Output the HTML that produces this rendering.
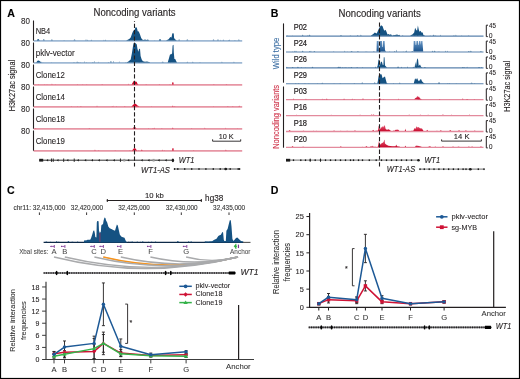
<!DOCTYPE html>
<html><head><meta charset="utf-8"><style>html,body{margin:0;padding:0;background:#fff;}body{width:520px;height:379px;overflow:hidden;position:relative;font-family:"Liberation Sans", sans-serif;}</style></head><body>
<svg width="520" height="379" viewBox="0 0 520 379" style="position:absolute;left:0;top:0;will-change:transform;font-family:'Liberation Sans', sans-serif">
<defs><linearGradient id="gb" x1="0" y1="0" x2="0" y2="1"><stop offset="0" stop-color="#6a97c4"/><stop offset="0.55" stop-color="#3d72a8"/><stop offset="1" stop-color="#1a5189"/></linearGradient><linearGradient id="gr" x1="0" y1="0" x2="0" y2="1"><stop offset="0" stop-color="#e2607a"/><stop offset="0.6" stop-color="#d42a4a"/><stop offset="1" stop-color="#c80a2c"/></linearGradient></defs>
<rect x="0" y="0" width="520" height="379" fill="#fff"/>
<text x="7.2" y="17.1" font-size="10.6" fill="#000" stroke="#000" stroke-width="0.12" font-weight="bold" >A</text>
<text x="93.5" y="15.5" font-size="10.0" fill="#231f20" stroke="#231f20" stroke-width="0.12" textLength="82.1" lengthAdjust="spacingAndGlyphs" >Noncoding variants</text>
<text transform="translate(14.9,85.6) rotate(-90)" x="0" y="0" font-size="8.3" fill="#231f20" stroke="#231f20" stroke-width="0.12" text-anchor="middle" textLength="51.4" lengthAdjust="spacingAndGlyphs" >H3K27ac signal</text>
<line x1="33.6" y1="40.9" x2="242.2" y2="40.9" stroke="#9fb9d4" stroke-width="1.7" />
<path d="M42.92,40.30 L42.92,40.01 L43.82,39.35 L44.72,40.01 L44.72,40.30 Z" fill="#155282"/>
<path d="M50.99,40.30 L50.99,40.07 L51.88,39.53 L52.77,40.07 L52.77,40.30 Z" fill="#155282"/>
<path d="M54.52,40.30 L54.52,40.26 L55.38,40.17 L56.24,40.26 L56.24,40.30 Z" fill="#155282"/>
<path d="M63.50,40.30 L63.50,40.23 L64.05,40.08 L64.60,40.23 L64.60,40.30 Z" fill="#155282"/>
<path d="M73.69,40.30 L73.69,40.06 L74.56,39.49 L75.42,40.06 L75.42,40.30 Z" fill="#155282"/>
<path d="M78.63,40.30 L78.63,40.26 L79.20,40.18 L79.78,40.26 L79.78,40.30 Z" fill="#155282"/>
<path d="M85.48,40.30 L85.48,40.09 L85.98,39.59 L86.48,40.09 L86.48,40.30 Z" fill="#155282"/>
<path d="M86.96,40.30 L86.96,40.17 L87.61,39.85 L88.26,40.17 L88.26,40.30 Z" fill="#155282"/>
<path d="M90.56,40.30 L90.56,40.14 L91.40,39.77 L92.25,40.14 L92.25,40.30 Z" fill="#155282"/>
<path d="M103.32,40.30 L103.32,40.14 L103.65,39.76 L103.98,40.14 L103.98,40.30 Z" fill="#155282"/>
<path d="M104.46,40.30 L104.46,40.16 L105.35,39.85 L106.25,40.16 L106.25,40.30 Z" fill="#155282"/>
<path d="M115.86,40.30 L115.86,40.23 L116.53,40.06 L117.20,40.23 L117.20,40.30 Z" fill="#155282"/>
<path d="M128.55,40.30 L128.55,40.03 L129.31,39.39 L130.07,40.03 L130.07,40.30 Z" fill="#155282"/>
<path d="M136.01,40.30 L136.01,40.20 L136.36,39.95 L136.71,40.20 L136.71,40.30 Z" fill="#155282"/>
<path d="M137.31,40.30 L137.31,40.27 L138.21,40.20 L139.11,40.27 L139.11,40.30 Z" fill="#155282"/>
<path d="M154.48,40.30 L154.48,40.17 L154.83,39.88 L155.19,40.17 L155.19,40.30 Z" fill="#155282"/>
<path d="M178.35,40.30 L178.35,40.05 L179.15,39.45 L179.96,40.05 L179.96,40.30 Z" fill="#155282"/>
<path d="M184.05,40.30 L184.05,40.27 L184.83,40.20 L185.60,40.27 L185.60,40.30 Z" fill="#155282"/>
<path d="M186.46,40.30 L186.46,40.08 L187.33,39.56 L188.20,40.08 L188.20,40.30 Z" fill="#155282"/>
<path d="M191.71,40.30 L191.71,40.24 L192.52,40.10 L193.33,40.24 L193.33,40.30 Z" fill="#155282"/>
<path d="M204.56,40.30 L204.56,40.25 L205.22,40.14 L205.88,40.25 L205.88,40.30 Z" fill="#155282"/>
<path d="M212.78,40.30 L212.78,40.04 L213.51,39.43 L214.23,40.04 L214.23,40.30 Z" fill="#155282"/>
<path d="M217.18,40.30 L217.18,40.05 L217.97,39.48 L218.76,40.05 L218.76,40.30 Z" fill="#155282"/>
<path d="M220.38,40.30 L220.38,40.17 L220.77,39.87 L221.16,40.17 L221.16,40.30 Z" fill="#155282"/>
<path d="M222.78,40.30 L222.78,40.11 L223.42,39.67 L224.06,40.11 L224.06,40.30 Z" fill="#155282"/>
<path d="M227.85,40.30 L227.85,40.21 L228.72,39.99 L229.59,40.21 L229.59,40.30 Z" fill="#155282"/>
<path d="M228.93,40.30 L228.93,40.11 L229.45,39.66 L229.96,40.11 L229.96,40.30 Z" fill="#155282"/>
<path d="M234.21,40.30 L234.21,40.18 L234.96,39.89 L235.71,40.18 L235.71,40.30 Z" fill="#155282"/>
<path d="M238.23,40.30 L238.23,40.04 L238.88,39.42 L239.53,40.04 L239.53,40.30 Z" fill="#155282"/>
<line x1="33.5" y1="20.5" x2="33.5" y2="40.699999999999996" stroke="#231f20" stroke-width="1.1" />
<text x="30.0" y="24.2" font-size="8.4" fill="#231f20" stroke="#231f20" stroke-width="0.08" text-anchor="end" textLength="8.9" lengthAdjust="spacingAndGlyphs" >80</text>
<text x="35.7" y="33.8" font-size="8.5" fill="#231f20" stroke="#231f20" stroke-width="0.1" textLength="14.6" lengthAdjust="spacingAndGlyphs" >NB4</text>
<line x1="33.6" y1="62.9" x2="242.2" y2="62.9" stroke="#9fb9d4" stroke-width="1.7" />
<path d="M40.42,62.30 L40.42,62.15 L41.10,61.79 L41.78,62.15 L41.78,62.30 Z" fill="#155282"/>
<path d="M42.61,62.30 L42.61,62.21 L42.96,62.00 L43.32,62.21 L43.32,62.30 Z" fill="#155282"/>
<path d="M50.26,62.30 L50.26,62.30 L50.87,62.28 L51.49,62.30 L51.49,62.30 Z" fill="#155282"/>
<path d="M51.35,62.30 L51.35,62.23 L51.66,62.06 L51.98,62.23 L51.98,62.30 Z" fill="#155282"/>
<path d="M73.13,62.30 L73.13,62.24 L73.98,62.09 L74.83,62.24 L74.83,62.30 Z" fill="#155282"/>
<path d="M76.43,62.30 L76.43,62.11 L77.20,61.67 L77.97,62.11 L77.97,62.30 Z" fill="#155282"/>
<path d="M77.84,62.30 L77.84,62.20 L78.72,61.97 L79.60,62.20 L79.60,62.30 Z" fill="#155282"/>
<path d="M79.98,62.30 L79.98,62.23 L80.34,62.05 L80.70,62.23 L80.70,62.30 Z" fill="#155282"/>
<path d="M84.00,62.30 L84.00,62.08 L84.38,61.57 L84.76,62.08 L84.76,62.30 Z" fill="#155282"/>
<path d="M85.97,62.30 L85.97,62.17 L86.40,61.88 L86.82,62.17 L86.82,62.30 Z" fill="#155282"/>
<path d="M91.91,62.30 L91.91,62.18 L92.72,61.91 L93.53,62.18 L93.53,62.30 Z" fill="#155282"/>
<path d="M93.87,62.30 L93.87,62.00 L94.30,61.31 L94.72,62.00 L94.72,62.30 Z" fill="#155282"/>
<path d="M97.86,62.30 L97.86,62.13 L98.31,61.72 L98.75,62.13 L98.75,62.30 Z" fill="#155282"/>
<path d="M105.47,62.30 L105.47,62.25 L106.31,62.15 L107.16,62.25 L107.16,62.30 Z" fill="#155282"/>
<path d="M107.69,62.30 L107.69,62.24 L108.44,62.11 L109.18,62.24 L109.18,62.30 Z" fill="#155282"/>
<path d="M110.10,62.30 L110.10,62.01 L110.93,61.35 L111.76,62.01 L111.76,62.30 Z" fill="#155282"/>
<path d="M113.17,62.30 L113.17,62.01 L113.61,61.34 L114.05,62.01 L114.05,62.30 Z" fill="#155282"/>
<path d="M118.90,62.30 L118.90,62.08 L119.24,61.58 L119.58,62.08 L119.58,62.30 Z" fill="#155282"/>
<path d="M125.25,62.30 L125.25,62.22 L125.81,62.03 L126.38,62.22 L126.38,62.30 Z" fill="#155282"/>
<path d="M126.34,62.30 L126.34,62.19 L126.98,61.93 L127.62,62.19 L127.62,62.30 Z" fill="#155282"/>
<path d="M133.73,62.30 L133.73,62.29 L134.04,62.26 L134.35,62.29 L134.35,62.30 Z" fill="#155282"/>
<path d="M138.54,62.30 L138.54,62.11 L139.13,61.66 L139.72,62.11 L139.72,62.30 Z" fill="#155282"/>
<path d="M143.14,62.30 L143.14,62.14 L143.88,61.75 L144.62,62.14 L144.62,62.30 Z" fill="#155282"/>
<path d="M161.78,62.30 L161.78,62.11 L162.68,61.66 L163.57,62.11 L163.57,62.30 Z" fill="#155282"/>
<path d="M169.81,62.30 L169.81,62.07 L170.13,61.55 L170.45,62.07 L170.45,62.30 Z" fill="#155282"/>
<path d="M180.22,62.30 L180.22,62.25 L181.06,62.13 L181.91,62.25 L181.91,62.30 Z" fill="#155282"/>
<path d="M186.55,62.30 L186.55,62.17 L187.33,61.87 L188.11,62.17 L188.11,62.30 Z" fill="#155282"/>
<path d="M191.97,62.30 L191.97,62.15 L192.77,61.80 L193.57,62.15 L193.57,62.30 Z" fill="#155282"/>
<path d="M199.33,62.30 L199.33,62.18 L200.01,61.89 L200.68,62.18 L200.68,62.30 Z" fill="#155282"/>
<path d="M205.01,62.30 L205.01,62.29 L205.84,62.27 L206.66,62.29 L206.66,62.30 Z" fill="#155282"/>
<path d="M210.12,62.30 L210.12,62.26 L210.69,62.16 L211.26,62.26 L211.26,62.30 Z" fill="#155282"/>
<path d="M212.51,62.30 L212.51,62.29 L213.19,62.25 L213.87,62.29 L213.87,62.30 Z" fill="#155282"/>
<path d="M221.17,62.30 L221.17,62.16 L221.90,61.83 L222.62,62.16 L222.62,62.30 Z" fill="#155282"/>
<path d="M233.27,62.30 L233.27,62.16 L233.95,61.85 L234.62,62.16 L234.62,62.30 Z" fill="#155282"/>
<line x1="33.5" y1="42.5" x2="33.5" y2="62.699999999999996" stroke="#231f20" stroke-width="1.1" />
<text x="30.0" y="46.2" font-size="8.4" fill="#231f20" stroke="#231f20" stroke-width="0.08" text-anchor="end" textLength="8.9" lengthAdjust="spacingAndGlyphs" >80</text>
<text x="35.7" y="55.8" font-size="8.5" fill="#231f20" stroke="#231f20" stroke-width="0.1" textLength="39.0" lengthAdjust="spacingAndGlyphs" >pklv-vector</text>
<line x1="33.6" y1="84.9" x2="242.2" y2="84.9" stroke="#e796a5" stroke-width="1.7" />
<path d="M38.20,84.30 L38.20,84.24 L38.66,84.11 L39.13,84.24 L39.13,84.30 Z" fill="#cf0a2c"/>
<path d="M44.31,84.30 L44.31,84.23 L44.71,84.08 L45.10,84.23 L45.10,84.30 Z" fill="#cf0a2c"/>
<path d="M46.67,84.30 L46.67,84.18 L47.01,83.89 L47.36,84.18 L47.36,84.30 Z" fill="#cf0a2c"/>
<path d="M51.33,84.30 L51.33,84.16 L51.94,83.84 L52.54,84.16 L52.54,84.30 Z" fill="#cf0a2c"/>
<path d="M54.89,84.30 L54.89,84.24 L55.27,84.09 L55.65,84.24 L55.65,84.30 Z" fill="#cf0a2c"/>
<path d="M73.30,84.30 L73.30,84.26 L73.81,84.18 L74.33,84.26 L74.33,84.30 Z" fill="#cf0a2c"/>
<path d="M76.81,84.30 L76.81,84.18 L77.37,83.89 L77.93,84.18 L77.93,84.30 Z" fill="#cf0a2c"/>
<path d="M82.39,84.30 L82.39,84.22 L82.80,84.03 L83.20,84.22 L83.20,84.30 Z" fill="#cf0a2c"/>
<path d="M84.43,84.30 L84.43,84.26 L84.94,84.16 L85.45,84.26 L85.45,84.30 Z" fill="#cf0a2c"/>
<path d="M86.39,84.30 L86.39,84.23 L86.82,84.07 L87.24,84.23 L87.24,84.30 Z" fill="#cf0a2c"/>
<path d="M98.72,84.30 L98.72,84.26 L99.49,84.17 L100.25,84.26 L100.25,84.30 Z" fill="#cf0a2c"/>
<path d="M101.25,84.30 L101.25,84.21 L102.14,83.99 L103.03,84.21 L103.03,84.30 Z" fill="#cf0a2c"/>
<path d="M127.83,84.30 L127.83,84.17 L128.38,83.86 L128.94,84.17 L128.94,84.30 Z" fill="#cf0a2c"/>
<path d="M145.29,84.30 L145.29,84.19 L146.13,83.94 L146.97,84.19 L146.97,84.30 Z" fill="#cf0a2c"/>
<path d="M158.62,84.30 L158.62,84.22 L159.34,84.03 L160.06,84.22 L160.06,84.30 Z" fill="#cf0a2c"/>
<path d="M163.85,84.30 L163.85,84.29 L164.33,84.25 L164.82,84.29 L164.82,84.30 Z" fill="#cf0a2c"/>
<path d="M169.43,84.30 L169.43,84.23 L169.99,84.06 L170.56,84.23 L170.56,84.30 Z" fill="#cf0a2c"/>
<path d="M213.09,84.30 L213.09,84.20 L213.89,83.98 L214.70,84.20 L214.70,84.30 Z" fill="#cf0a2c"/>
<path d="M225.60,84.30 L225.60,84.17 L226.43,83.88 L227.25,84.17 L227.25,84.30 Z" fill="#cf0a2c"/>
<path d="M235.71,84.30 L235.71,84.25 L236.02,84.15 L236.33,84.25 L236.33,84.30 Z" fill="#cf0a2c"/>
<line x1="33.5" y1="64.5" x2="33.5" y2="84.7" stroke="#231f20" stroke-width="1.1" />
<text x="30.0" y="68.2" font-size="8.4" fill="#231f20" stroke="#231f20" stroke-width="0.08" text-anchor="end" textLength="8.9" lengthAdjust="spacingAndGlyphs" >80</text>
<text x="35.7" y="77.80000000000001" font-size="8.5" fill="#231f20" stroke="#231f20" stroke-width="0.1" textLength="29.2" lengthAdjust="spacingAndGlyphs" >Clone12</text>
<line x1="33.6" y1="106.9" x2="242.2" y2="106.9" stroke="#e796a5" stroke-width="1.7" />
<path d="M40.65,106.30 L40.65,106.27 L41.39,106.19 L42.13,106.27 L42.13,106.30 Z" fill="#cf0a2c"/>
<path d="M46.72,106.30 L46.72,106.26 L47.11,106.16 L47.50,106.26 L47.50,106.30 Z" fill="#cf0a2c"/>
<path d="M70.78,106.30 L70.78,106.20 L71.34,105.96 L71.91,106.20 L71.91,106.30 Z" fill="#cf0a2c"/>
<path d="M77.11,106.30 L77.11,106.23 L77.55,106.05 L77.99,106.23 L77.99,106.30 Z" fill="#cf0a2c"/>
<path d="M80.01,106.30 L80.01,106.20 L80.88,105.97 L81.76,106.20 L81.76,106.30 Z" fill="#cf0a2c"/>
<path d="M84.00,106.30 L84.00,106.28 L84.78,106.23 L85.56,106.28 L85.56,106.30 Z" fill="#cf0a2c"/>
<path d="M96.35,106.30 L96.35,106.15 L97.02,105.81 L97.68,106.15 L97.68,106.30 Z" fill="#cf0a2c"/>
<path d="M107.81,106.30 L107.81,106.27 L108.15,106.19 L108.50,106.27 L108.50,106.30 Z" fill="#cf0a2c"/>
<path d="M111.59,106.30 L111.59,106.23 L112.10,106.08 L112.60,106.23 L112.60,106.30 Z" fill="#cf0a2c"/>
<path d="M112.73,106.30 L112.73,106.15 L113.10,105.80 L113.48,106.15 L113.48,106.30 Z" fill="#cf0a2c"/>
<path d="M116.08,106.30 L116.08,106.23 L116.60,106.07 L117.12,106.23 L117.12,106.30 Z" fill="#cf0a2c"/>
<path d="M118.33,106.30 L118.33,106.25 L118.93,106.13 L119.53,106.25 L119.53,106.30 Z" fill="#cf0a2c"/>
<path d="M123.94,106.30 L123.94,106.22 L124.79,106.05 L125.63,106.22 L125.63,106.30 Z" fill="#cf0a2c"/>
<path d="M133.95,106.30 L133.95,106.24 L134.31,106.10 L134.66,106.24 L134.66,106.30 Z" fill="#cf0a2c"/>
<path d="M146.93,106.30 L146.93,106.28 L147.45,106.24 L147.97,106.28 L147.97,106.30 Z" fill="#cf0a2c"/>
<path d="M151.08,106.30 L151.08,106.22 L151.46,106.03 L151.84,106.22 L151.84,106.30 Z" fill="#cf0a2c"/>
<path d="M156.81,106.30 L156.81,106.26 L157.63,106.18 L158.46,106.26 L158.46,106.30 Z" fill="#cf0a2c"/>
<path d="M173.95,106.30 L173.95,106.22 L174.74,106.03 L175.53,106.22 L175.53,106.30 Z" fill="#cf0a2c"/>
<path d="M179.33,106.30 L179.33,106.30 L180.06,106.28 L180.80,106.30 L180.80,106.30 Z" fill="#cf0a2c"/>
<path d="M191.15,106.30 L191.15,106.25 L192.05,106.15 L192.94,106.25 L192.94,106.30 Z" fill="#cf0a2c"/>
<path d="M196.04,106.30 L196.04,106.26 L196.54,106.17 L197.04,106.26 L197.04,106.30 Z" fill="#cf0a2c"/>
<path d="M213.10,106.30 L213.10,106.18 L213.50,105.89 L213.91,106.18 L213.91,106.30 Z" fill="#cf0a2c"/>
<path d="M226.95,106.30 L226.95,106.22 L227.80,106.05 L228.66,106.22 L228.66,106.30 Z" fill="#cf0a2c"/>
<path d="M232.04,106.30 L232.04,106.23 L232.80,106.08 L233.55,106.23 L233.55,106.30 Z" fill="#cf0a2c"/>
<path d="M238.38,106.30 L238.38,106.16 L239.24,105.84 L240.10,106.16 L240.10,106.30 Z" fill="#cf0a2c"/>
<line x1="33.5" y1="86.5" x2="33.5" y2="106.7" stroke="#231f20" stroke-width="1.1" />
<text x="30.0" y="90.2" font-size="8.4" fill="#231f20" stroke="#231f20" stroke-width="0.08" text-anchor="end" textLength="8.9" lengthAdjust="spacingAndGlyphs" >80</text>
<text x="35.7" y="99.80000000000001" font-size="8.5" fill="#231f20" stroke="#231f20" stroke-width="0.1" textLength="29.2" lengthAdjust="spacingAndGlyphs" >Clone14</text>
<line x1="33.6" y1="128.9" x2="242.2" y2="128.9" stroke="#e796a5" stroke-width="1.7" />
<path d="M35.00,128.30 L35.00,128.19 L35.69,127.95 L36.38,128.19 L36.38,128.30 Z" fill="#cf0a2c"/>
<path d="M44.97,128.30 L44.97,128.27 L45.82,128.19 L46.66,128.27 L46.66,128.30 Z" fill="#cf0a2c"/>
<path d="M53.92,128.30 L53.92,128.25 L54.27,128.13 L54.62,128.25 L54.62,128.30 Z" fill="#cf0a2c"/>
<path d="M86.61,128.30 L86.61,128.28 L87.34,128.23 L88.06,128.28 L88.06,128.30 Z" fill="#cf0a2c"/>
<path d="M88.47,128.30 L88.47,128.19 L89.34,127.95 L90.20,128.19 L90.20,128.30 Z" fill="#cf0a2c"/>
<path d="M97.92,128.30 L97.92,128.25 L98.81,128.14 L99.70,128.25 L99.70,128.30 Z" fill="#cf0a2c"/>
<path d="M103.58,128.30 L103.58,128.28 L104.00,128.23 L104.42,128.28 L104.42,128.30 Z" fill="#cf0a2c"/>
<path d="M131.40,128.30 L131.40,128.26 L131.97,128.17 L132.54,128.26 L132.54,128.30 Z" fill="#cf0a2c"/>
<path d="M148.14,128.30 L148.14,128.24 L148.60,128.10 L149.06,128.24 L149.06,128.30 Z" fill="#cf0a2c"/>
<path d="M152.14,128.30 L152.14,128.20 L153.00,127.96 L153.86,128.20 L153.86,128.30 Z" fill="#cf0a2c"/>
<path d="M153.95,128.30 L153.95,128.17 L154.51,127.87 L155.06,128.17 L155.06,128.30 Z" fill="#cf0a2c"/>
<path d="M161.23,128.30 L161.23,128.24 L161.88,128.11 L162.53,128.24 L162.53,128.30 Z" fill="#cf0a2c"/>
<path d="M181.78,128.30 L181.78,128.28 L182.66,128.23 L183.53,128.28 L183.53,128.30 Z" fill="#cf0a2c"/>
<path d="M191.05,128.30 L191.05,128.23 L191.69,128.08 L192.34,128.23 L192.34,128.30 Z" fill="#cf0a2c"/>
<path d="M201.43,128.30 L201.43,128.27 L201.87,128.19 L202.31,128.27 L202.31,128.30 Z" fill="#cf0a2c"/>
<path d="M204.18,128.30 L204.18,128.17 L204.81,127.87 L205.45,128.17 L205.45,128.30 Z" fill="#cf0a2c"/>
<path d="M225.20,128.30 L225.20,128.17 L225.67,127.87 L226.13,128.17 L226.13,128.30 Z" fill="#cf0a2c"/>
<path d="M237.40,128.30 L237.40,128.22 L237.74,128.05 L238.08,128.22 L238.08,128.30 Z" fill="#cf0a2c"/>
<line x1="33.5" y1="108.5" x2="33.5" y2="128.70000000000002" stroke="#231f20" stroke-width="1.1" />
<text x="30.0" y="112.2" font-size="8.4" fill="#231f20" stroke="#231f20" stroke-width="0.08" text-anchor="end" textLength="8.9" lengthAdjust="spacingAndGlyphs" >80</text>
<text x="35.7" y="121.80000000000001" font-size="8.5" fill="#231f20" stroke="#231f20" stroke-width="0.1" textLength="29.2" lengthAdjust="spacingAndGlyphs" >Clone18</text>
<line x1="33.6" y1="150.9" x2="242.2" y2="150.9" stroke="#e796a5" stroke-width="1.7" />
<path d="M65.74,150.30 L65.74,150.28 L66.14,150.23 L66.55,150.28 L66.55,150.30 Z" fill="#cf0a2c"/>
<path d="M73.12,150.30 L73.12,150.29 L73.70,150.28 L74.28,150.29 L74.28,150.30 Z" fill="#cf0a2c"/>
<path d="M94.10,150.30 L94.10,150.17 L94.96,149.85 L95.83,150.17 L95.83,150.30 Z" fill="#cf0a2c"/>
<path d="M98.12,150.30 L98.12,150.17 L98.76,149.88 L99.40,150.17 L99.40,150.30 Z" fill="#cf0a2c"/>
<path d="M103.09,150.30 L103.09,150.30 L103.59,150.30 L104.09,150.30 L104.09,150.30 Z" fill="#cf0a2c"/>
<path d="M114.65,150.30 L114.65,150.20 L115.15,149.97 L115.66,150.20 L115.66,150.30 Z" fill="#cf0a2c"/>
<path d="M127.18,150.30 L127.18,150.27 L128.00,150.21 L128.82,150.27 L128.82,150.30 Z" fill="#cf0a2c"/>
<path d="M129.28,150.30 L129.28,150.17 L129.92,149.88 L130.57,150.17 L130.57,150.30 Z" fill="#cf0a2c"/>
<path d="M131.97,150.30 L131.97,150.25 L132.71,150.13 L133.46,150.25 L133.46,150.30 Z" fill="#cf0a2c"/>
<path d="M138.34,150.30 L138.34,150.18 L138.73,149.91 L139.12,150.18 L139.12,150.30 Z" fill="#cf0a2c"/>
<path d="M161.75,150.30 L161.75,150.16 L162.46,149.84 L163.18,150.16 L163.18,150.30 Z" fill="#cf0a2c"/>
<path d="M163.92,150.30 L163.92,150.20 L164.34,149.98 L164.77,150.20 L164.77,150.30 Z" fill="#cf0a2c"/>
<path d="M187.73,150.30 L187.73,150.25 L188.57,150.13 L189.41,150.25 L189.41,150.30 Z" fill="#cf0a2c"/>
<path d="M193.16,150.30 L193.16,150.23 L193.74,150.07 L194.32,150.23 L194.32,150.30 Z" fill="#cf0a2c"/>
<path d="M224.93,150.30 L224.93,150.16 L225.83,149.82 L226.72,150.16 L226.72,150.30 Z" fill="#cf0a2c"/>
<line x1="33.5" y1="130.5" x2="33.5" y2="150.70000000000002" stroke="#231f20" stroke-width="1.1" />
<text x="30.0" y="134.2" font-size="8.4" fill="#231f20" stroke="#231f20" stroke-width="0.08" text-anchor="end" textLength="8.9" lengthAdjust="spacingAndGlyphs" >80</text>
<text x="35.7" y="143.8" font-size="8.5" fill="#231f20" stroke="#231f20" stroke-width="0.1" textLength="29.2" lengthAdjust="spacingAndGlyphs" >Clone19</text>
<path d="M36.80,40.40 L36.80,40.40 L37.80,38.90 L38.80,39.20 L39.60,40.40 L39.60,40.40 Z" fill="#155282"/>
<path d="M126.50,40.40 L126.50,40.30 L127.80,39.80 L129.20,38.90 L130.70,37.40 L132.20,33.30 L133.30,30.70 L134.50,29.90 L135.60,27.30 L136.80,27.50 L137.70,31.30 L138.80,31.60 L140.00,34.50 L141.20,38.00 L142.30,39.40 L143.50,40.00 L145.00,39.40 L146.50,40.00 L148.00,39.50 L149.00,40.40 L149.00,40.40 Z" fill="#155282"/>
<path d="M158.80,40.40 L158.80,40.40 L159.50,39.20 L160.60,39.20 L161.20,40.40 L161.20,40.40 Z" fill="#155282"/>
<path d="M166.00,40.40 L166.00,40.40 L168.60,39.20 L170.30,37.10 L171.50,37.40 L172.30,33.60 L173.20,32.90 L173.80,33.90 L174.10,38.00 L175.00,39.20 L176.70,40.40 L176.70,40.40 Z" fill="#155282"/>
<path d="M36.20,62.40 L36.20,62.40 L37.50,60.80 L38.80,60.50 L40.20,61.60 L41.50,62.40 L41.50,62.40 Z" fill="#155282"/>
<path d="M127.00,62.40 L127.00,62.30 L128.40,61.60 L130.70,59.60 L131.90,53.20 L133.00,46.20 L133.60,43.30 L134.80,42.70 L135.90,43.60 L136.80,44.50 L137.40,48.50 L138.30,51.70 L139.10,49.10 L140.00,48.80 L140.60,56.10 L141.70,59.60 L142.90,61.30 L145.00,61.80 L147.00,61.50 L150.00,62.30 L150.00,62.40 Z" fill="#155282"/>
<path d="M167.70,62.40 L167.70,62.40 L168.90,58.40 L170.00,54.60 L171.20,54.30 L172.10,53.50 L172.60,45.40 L173.50,44.80 L173.80,52.60 L174.40,59.00 L175.20,59.00 L176.10,61.00 L177.00,62.40 L177.00,62.40 Z" fill="#155282"/>
<path d="M131.60,84.40 L131.60,84.40 L132.50,83.00 L133.30,81.50 L134.00,80.90 L135.20,81.20 L135.50,81.80 L136.70,81.80 L137.30,83.50 L138.50,84.40 L138.50,84.40 Z" fill="#cf0a2c"/>
<path d="M172.00,84.40 L172.00,84.40 L172.40,82.30 L173.30,82.30 L173.70,84.40 L173.70,84.40 Z" fill="#cf0a2c"/>
<path d="M131.40,106.40 L131.40,106.40 L133.00,105.00 L134.50,103.40 L136.00,104.00 L137.50,105.50 L139.50,106.40 L139.50,106.40 Z" fill="#cf0a2c"/>
<path d="M172.20,106.40 L172.20,106.40 L172.80,105.40 L173.40,106.40 L173.40,106.40 Z" fill="#cf0a2c"/>
<path d="M132.50,128.40 L132.50,128.40 L134.00,127.00 L135.00,127.00 L136.50,128.40 L136.50,128.40 Z" fill="#cf0a2c"/>
<path d="M172.20,128.40 L172.20,128.40 L172.80,127.60 L173.40,128.40 L173.40,128.40 Z" fill="#cf0a2c"/>
<path d="M132.00,150.40 L132.00,150.40 L133.50,148.80 L134.50,148.00 L135.50,148.60 L137.00,150.40 L137.00,150.40 Z" fill="#cf0a2c"/>
<path d="M141.00,150.40 L141.00,150.40 L141.80,149.50 L142.60,150.40 L142.60,150.40 Z" fill="#cf0a2c"/>
<path d="M172.00,150.40 L172.00,150.40 L172.60,148.00 L173.30,148.00 L173.80,150.40 L173.80,150.40 Z" fill="#cf0a2c"/>
<line x1="134.5" y1="20.9" x2="134.5" y2="166.6" stroke="#231f20" stroke-width="1.1" stroke-dasharray="4.2 2.12" stroke-dashoffset="3.42"/>
<text x="218.7" y="138.8" font-size="7.6" fill="#231f20" stroke="#231f20" stroke-width="0.12" textLength="15.0" lengthAdjust="spacingAndGlyphs" >10 K</text>
<path d="M212.6,139.3 V141.2 H240.7 V139.3" fill="none" stroke="#231f20" stroke-width="0.9"/>
<line x1="39.4" y1="160.2" x2="172.5" y2="160.2" stroke="#1a1a1a" stroke-width="0.9" />
<rect x="39.2" y="158.8" width="4.0" height="2.8" fill="#1a1a1a"/>
<path d="M48.10,159.00 L46.30,160.20 L48.10,161.40 Z" fill="#1a1a1a"/>
<path d="M58.50,159.00 L56.70,160.20 L58.50,161.40 Z" fill="#1a1a1a"/>
<path d="M68.40,159.00 L66.60,160.20 L68.40,161.40 Z" fill="#1a1a1a"/>
<path d="M78.80,159.00 L77.00,160.20 L78.80,161.40 Z" fill="#1a1a1a"/>
<path d="M86.20,159.00 L84.40,160.20 L86.20,161.40 Z" fill="#1a1a1a"/>
<path d="M93.00,159.00 L91.20,160.20 L93.00,161.40 Z" fill="#1a1a1a"/>
<path d="M99.80,159.00 L98.00,160.20 L99.80,161.40 Z" fill="#1a1a1a"/>
<path d="M107.50,159.00 L105.70,160.20 L107.50,161.40 Z" fill="#1a1a1a"/>
<path d="M114.80,159.00 L113.00,160.20 L114.80,161.40 Z" fill="#1a1a1a"/>
<path d="M129.20,159.00 L127.40,160.20 L129.20,161.40 Z" fill="#1a1a1a"/>
<path d="M142.70,159.00 L140.90,160.20 L142.70,161.40 Z" fill="#1a1a1a"/>
<path d="M149.50,159.00 L147.70,160.20 L149.50,161.40 Z" fill="#1a1a1a"/>
<path d="M159.60,159.00 L157.80,160.20 L159.60,161.40 Z" fill="#1a1a1a"/>
<path d="M166.70,159.00 L164.90,160.20 L166.70,161.40 Z" fill="#1a1a1a"/>
<rect x="50.95" y="158.5" width="0.9" height="3.4" fill="#1a1a1a"/>
<rect x="52.75" y="158.5" width="0.9" height="3.4" fill="#1a1a1a"/>
<rect x="63.25" y="158.5" width="0.9" height="3.4" fill="#1a1a1a"/>
<rect x="73.75" y="158.5" width="0.9" height="3.4" fill="#1a1a1a"/>
<rect x="119.95" y="158.5" width="0.9" height="3.4" fill="#1a1a1a"/>
<rect x="123.30" y="158.9" width="2.0" height="2.6" fill="#9a9a9a"/>
<rect x="152.60" y="158.9" width="2.0" height="2.6" fill="#9a9a9a"/>
<ellipse cx="172.9" cy="160.3" rx="1.2" ry="1.9" fill="#1a1a1a"/>
<text x="178.8" y="162.9" font-size="8.4" fill="#231f20" stroke="#231f20" stroke-width="0.12" font-style="italic" textLength="15.6" lengthAdjust="spacingAndGlyphs" >WT1</text>
<text x="141.0" y="172.6" font-size="8.2" fill="#231f20" stroke="#231f20" stroke-width="0.12" font-style="italic" textLength="29.0" lengthAdjust="spacingAndGlyphs" >WT1-AS</text>
<line x1="174.1" y1="169.0" x2="239.9" y2="169.0" stroke="#8c8c8c" stroke-width="1.3" />
<rect x="173.85" y="168.15" width="1.3" height="1.7" fill="#1a1a1a"/>
<rect x="177.15" y="168.15" width="1.3" height="1.7" fill="#1a1a1a"/>
<rect x="184.05" y="168.15" width="1.3" height="1.7" fill="#1a1a1a"/>
<rect x="191.05" y="168.15" width="1.3" height="1.7" fill="#1a1a1a"/>
<rect x="198.35" y="168.15" width="1.3" height="1.7" fill="#1a1a1a"/>
<rect x="205.25" y="168.15" width="1.3" height="1.7" fill="#1a1a1a"/>
<rect x="212.65" y="168.15" width="1.3" height="1.7" fill="#1a1a1a"/>
<rect x="219.55" y="168.15" width="1.3" height="1.7" fill="#1a1a1a"/>
<rect x="229.55" y="168.15" width="1.3" height="1.7" fill="#1a1a1a"/>
<rect x="237.55" y="168.15" width="1.3" height="1.7" fill="#1a1a1a"/>
<rect x="238.95" y="168.15" width="1.3" height="1.7" fill="#1a1a1a"/>
<ellipse cx="225.7" cy="169.0" rx="1.4" ry="1.3" fill="#1a1a1a"/>
<text x="270.8" y="17.1" font-size="10.6" fill="#000" stroke="#000" stroke-width="0.12" font-weight="bold" >B</text>
<text x="338.6" y="16.6" font-size="10.0" fill="#231f20" stroke="#231f20" stroke-width="0.12" textLength="82.1" lengthAdjust="spacingAndGlyphs" >Noncoding variants</text>
<text transform="translate(278.6,53.45) rotate(-90)" x="0" y="0" font-size="9.8" fill="#3d6fa4" stroke="#3d6fa4" stroke-width="0.12" text-anchor="middle" textLength="31.7" lengthAdjust="spacingAndGlyphs" >Wild type</text>
<text transform="translate(278.6,116.85) rotate(-90)" x="0" y="0" font-size="9.8" fill="#d0394f" stroke="#d0394f" stroke-width="0.12" text-anchor="middle" textLength="63.9" lengthAdjust="spacingAndGlyphs" >Noncoding variants</text>
<line x1="283.5" y1="23.4" x2="283.5" y2="82.7" stroke="#231f20" stroke-width="1.1" />
<line x1="283.5" y1="86.5" x2="283.5" y2="147.7" stroke="#231f20" stroke-width="1.1" />
<text transform="translate(509.6,86.3) rotate(-90)" x="0" y="0" font-size="8.3" fill="#231f20" stroke="#231f20" stroke-width="0.12" text-anchor="middle" textLength="51.0" lengthAdjust="spacingAndGlyphs" >H3K27ac signal</text>
<line x1="286" y1="36.1" x2="483.5" y2="36.1" stroke="#5a82ad" stroke-width="1.1" />
<path d="M286.50,35.60 L286.50,35.48 L287.26,35.19 L288.02,35.48 L288.02,35.60 Z" fill="#155282"/>
<path d="M292.01,35.60 L292.01,35.48 L292.34,35.19 L292.67,35.48 L292.67,35.60 Z" fill="#155282"/>
<path d="M298.06,35.60 L298.06,35.55 L298.48,35.44 L298.89,35.55 L298.89,35.60 Z" fill="#155282"/>
<path d="M302.03,35.60 L302.03,35.34 L302.66,34.74 L303.29,35.34 L303.29,35.60 Z" fill="#155282"/>
<path d="M306.81,35.60 L306.81,35.49 L307.57,35.24 L308.33,35.49 L308.33,35.60 Z" fill="#155282"/>
<path d="M308.66,35.60 L308.66,35.37 L309.50,34.84 L310.35,35.37 L310.35,35.60 Z" fill="#155282"/>
<path d="M340.02,35.60 L340.02,35.40 L340.74,34.92 L341.46,35.40 L341.46,35.60 Z" fill="#155282"/>
<path d="M341.20,35.60 L341.20,35.44 L341.63,35.06 L342.06,35.44 L342.06,35.60 Z" fill="#155282"/>
<path d="M347.51,35.60 L347.51,35.55 L348.13,35.43 L348.74,35.55 L348.74,35.60 Z" fill="#155282"/>
<path d="M349.59,35.60 L349.59,35.49 L350.45,35.25 L351.31,35.49 L351.31,35.60 Z" fill="#155282"/>
<path d="M356.89,35.60 L356.89,35.38 L357.71,34.88 L358.53,35.38 L358.53,35.60 Z" fill="#155282"/>
<path d="M357.96,35.60 L357.96,35.53 L358.31,35.38 L358.67,35.53 L358.67,35.60 Z" fill="#155282"/>
<path d="M360.35,35.60 L360.35,35.34 L360.89,34.75 L361.43,35.34 L361.43,35.60 Z" fill="#155282"/>
<path d="M366.34,35.60 L366.34,35.54 L366.89,35.41 L367.44,35.54 L367.44,35.60 Z" fill="#155282"/>
<path d="M375.47,35.60 L375.47,35.53 L375.96,35.36 L376.44,35.53 L376.44,35.60 Z" fill="#155282"/>
<path d="M379.72,35.60 L379.72,35.60 L380.06,35.59 L380.41,35.60 L380.41,35.60 Z" fill="#155282"/>
<path d="M389.44,35.60 L389.44,35.34 L389.75,34.72 L390.07,35.34 L390.07,35.60 Z" fill="#155282"/>
<path d="M393.57,35.60 L393.57,35.36 L393.87,34.80 L394.17,35.36 L394.17,35.60 Z" fill="#155282"/>
<path d="M397.43,35.60 L397.43,35.50 L398.00,35.26 L398.57,35.50 L398.57,35.60 Z" fill="#155282"/>
<path d="M398.75,35.60 L398.75,35.37 L399.38,34.84 L400.01,35.37 L400.01,35.60 Z" fill="#155282"/>
<path d="M402.10,35.60 L402.10,35.44 L402.75,35.07 L403.40,35.44 L403.40,35.60 Z" fill="#155282"/>
<path d="M410.88,35.60 L410.88,35.59 L411.44,35.56 L412.01,35.59 L412.01,35.60 Z" fill="#155282"/>
<path d="M411.91,35.60 L411.91,35.57 L412.26,35.50 L412.61,35.57 L412.61,35.60 Z" fill="#155282"/>
<path d="M413.85,35.60 L413.85,35.45 L414.73,35.09 L415.61,35.45 L415.61,35.60 Z" fill="#155282"/>
<path d="M416.93,35.60 L416.93,35.34 L417.68,34.75 L418.42,35.34 L418.42,35.60 Z" fill="#155282"/>
<path d="M421.92,35.60 L421.92,35.35 L422.69,34.78 L423.46,35.35 L423.46,35.60 Z" fill="#155282"/>
<path d="M427.92,35.60 L427.92,35.60 L428.53,35.59 L429.13,35.60 L429.13,35.60 Z" fill="#155282"/>
<path d="M429.75,35.60 L429.75,35.43 L430.08,35.03 L430.41,35.43 L430.41,35.60 Z" fill="#155282"/>
<path d="M432.77,35.60 L432.77,35.36 L433.58,34.79 L434.39,35.36 L434.39,35.60 Z" fill="#155282"/>
<path d="M434.65,35.60 L434.65,35.46 L435.53,35.13 L436.41,35.46 L436.41,35.60 Z" fill="#155282"/>
<path d="M440.23,35.60 L440.23,35.36 L440.60,34.81 L440.97,35.36 L440.97,35.60 Z" fill="#155282"/>
<path d="M446.40,35.60 L446.40,35.58 L446.91,35.52 L447.41,35.58 L447.41,35.60 Z" fill="#155282"/>
<path d="M453.38,35.60 L453.38,35.42 L453.95,35.00 L454.51,35.42 L454.51,35.60 Z" fill="#155282"/>
<path d="M455.51,35.60 L455.51,35.35 L455.91,34.78 L456.31,35.35 L456.31,35.60 Z" fill="#155282"/>
<path d="M461.15,35.60 L461.15,35.47 L461.71,35.15 L462.26,35.47 L462.26,35.60 Z" fill="#155282"/>
<path d="M462.73,35.60 L462.73,35.55 L463.19,35.44 L463.65,35.55 L463.65,35.60 Z" fill="#155282"/>
<path d="M467.80,35.60 L467.80,35.53 L468.61,35.36 L469.42,35.53 L469.42,35.60 Z" fill="#155282"/>
<text x="293.7" y="30.200000000000003" font-size="8.4" fill="#231f20" stroke="#231f20" stroke-width="0.22" textLength="13.3" lengthAdjust="spacingAndGlyphs" >P02</text>
<path d="M488.0,25.20 H486.3 V36.60 H487.8" fill="none" stroke="#231f20" stroke-width="1.0"/>
<text x="489.0" y="27.700000000000003" font-size="6.9" fill="#231f20" stroke="#231f20" stroke-width="0.1" textLength="6.9" lengthAdjust="spacingAndGlyphs" >45</text>
<text x="489.0" y="37.6" font-size="6.9" fill="#231f20" stroke="#231f20" stroke-width="0.1" textLength="3.5" lengthAdjust="spacingAndGlyphs" >0</text>
<line x1="286" y1="52.0" x2="483.5" y2="52.0" stroke="#5a82ad" stroke-width="1.1" />
<path d="M292.17,51.50 L292.17,51.44 L292.65,51.30 L293.12,51.44 L293.12,51.50 Z" fill="#155282"/>
<path d="M294.21,51.50 L294.21,51.24 L294.55,50.63 L294.90,51.24 L294.90,51.50 Z" fill="#155282"/>
<path d="M295.50,51.50 L295.50,51.29 L296.02,50.81 L296.54,51.29 L296.54,51.50 Z" fill="#155282"/>
<path d="M301.93,51.50 L301.93,51.28 L302.64,50.76 L303.35,51.28 L303.35,51.50 Z" fill="#155282"/>
<path d="M309.16,51.50 L309.16,51.37 L309.78,51.08 L310.40,51.37 L310.40,51.50 Z" fill="#155282"/>
<path d="M310.68,51.50 L310.68,51.31 L310.99,50.87 L311.29,51.31 L311.29,51.50 Z" fill="#155282"/>
<path d="M312.53,51.50 L312.53,51.49 L312.93,51.47 L313.34,51.49 L313.34,51.50 Z" fill="#155282"/>
<path d="M313.62,51.50 L313.62,51.32 L314.36,50.88 L315.10,51.32 L315.10,51.50 Z" fill="#155282"/>
<path d="M323.53,51.50 L323.53,51.48 L323.84,51.42 L324.16,51.48 L324.16,51.50 Z" fill="#155282"/>
<path d="M332.89,51.50 L332.89,51.45 L333.66,51.34 L334.44,51.45 L334.44,51.50 Z" fill="#155282"/>
<path d="M344.42,51.50 L344.42,51.28 L344.77,50.76 L345.13,51.28 L345.13,51.50 Z" fill="#155282"/>
<path d="M346.83,51.50 L346.83,51.44 L347.19,51.32 L347.56,51.44 L347.56,51.50 Z" fill="#155282"/>
<path d="M350.78,51.50 L350.78,51.32 L351.61,50.91 L352.44,51.32 L352.44,51.50 Z" fill="#155282"/>
<path d="M357.29,51.50 L357.29,51.32 L357.92,50.91 L358.55,51.32 L358.55,51.50 Z" fill="#155282"/>
<path d="M365.12,51.50 L365.12,51.44 L365.46,51.30 L365.80,51.44 L365.80,51.50 Z" fill="#155282"/>
<path d="M366.34,51.50 L366.34,51.41 L366.86,51.19 L367.39,51.41 L367.39,51.50 Z" fill="#155282"/>
<path d="M373.40,51.50 L373.40,51.35 L373.89,51.01 L374.38,51.35 L374.38,51.50 Z" fill="#155282"/>
<path d="M379.52,51.50 L379.52,51.23 L380.26,50.61 L381.01,51.23 L381.01,51.50 Z" fill="#155282"/>
<path d="M389.09,51.50 L389.09,51.39 L389.66,51.13 L390.23,51.39 L390.23,51.50 Z" fill="#155282"/>
<path d="M394.00,51.50 L394.00,51.31 L394.46,50.88 L394.92,51.31 L394.92,51.50 Z" fill="#155282"/>
<path d="M402.78,51.50 L402.78,51.44 L403.21,51.29 L403.64,51.44 L403.64,51.50 Z" fill="#155282"/>
<path d="M404.97,51.50 L404.97,51.44 L405.39,51.29 L405.80,51.44 L405.80,51.50 Z" fill="#155282"/>
<path d="M411.50,51.50 L411.50,51.36 L412.22,51.04 L412.95,51.36 L412.95,51.50 Z" fill="#155282"/>
<path d="M423.07,51.50 L423.07,51.49 L423.74,51.46 L424.40,51.49 L424.40,51.50 Z" fill="#155282"/>
<path d="M428.65,51.50 L428.65,51.48 L429.12,51.45 L429.59,51.48 L429.59,51.50 Z" fill="#155282"/>
<path d="M431.89,51.50 L431.89,51.30 L432.42,50.85 L432.96,51.30 L432.96,51.50 Z" fill="#155282"/>
<path d="M433.73,51.50 L433.73,51.27 L434.58,50.73 L435.43,51.27 L435.43,51.50 Z" fill="#155282"/>
<path d="M437.36,51.50 L437.36,51.42 L438.20,51.23 L439.04,51.42 L439.04,51.50 Z" fill="#155282"/>
<path d="M439.06,51.50 L439.06,51.46 L439.46,51.36 L439.86,51.46 L439.86,51.50 Z" fill="#155282"/>
<path d="M445.18,51.50 L445.18,51.29 L445.62,50.80 L446.05,51.29 L446.05,51.50 Z" fill="#155282"/>
<path d="M446.97,51.50 L446.97,51.26 L447.35,50.70 L447.72,51.26 L447.72,51.50 Z" fill="#155282"/>
<path d="M463.17,51.50 L463.17,51.50 L463.54,51.50 L463.92,51.50 L463.92,51.50 Z" fill="#155282"/>
<path d="M468.02,51.50 L468.02,51.31 L468.80,50.88 L469.57,51.31 L469.57,51.50 Z" fill="#155282"/>
<path d="M470.11,51.50 L470.11,51.24 L470.85,50.63 L471.59,51.24 L471.59,51.50 Z" fill="#155282"/>
<path d="M480.18,51.50 L480.18,51.36 L480.90,51.02 L481.63,51.36 L481.63,51.50 Z" fill="#155282"/>
<text x="293.7" y="46.1" font-size="8.4" fill="#231f20" stroke="#231f20" stroke-width="0.22" textLength="13.3" lengthAdjust="spacingAndGlyphs" >P24</text>
<path d="M488.0,41.10 H486.3 V52.50 H487.8" fill="none" stroke="#231f20" stroke-width="1.0"/>
<text x="489.0" y="43.6" font-size="6.9" fill="#231f20" stroke="#231f20" stroke-width="0.1" textLength="6.9" lengthAdjust="spacingAndGlyphs" >45</text>
<text x="489.0" y="53.5" font-size="6.9" fill="#231f20" stroke="#231f20" stroke-width="0.1" textLength="3.5" lengthAdjust="spacingAndGlyphs" >0</text>
<line x1="286" y1="67.9" x2="483.5" y2="67.9" stroke="#5a82ad" stroke-width="1.1" />
<path d="M286.50,67.40 L286.50,67.23 L286.90,66.85 L287.30,67.23 L287.30,67.40 Z" fill="#155282"/>
<path d="M291.99,67.40 L291.99,67.26 L292.67,66.92 L293.34,67.26 L293.34,67.40 Z" fill="#155282"/>
<path d="M297.22,67.40 L297.22,67.18 L297.93,66.67 L298.65,67.18 L298.65,67.40 Z" fill="#155282"/>
<path d="M300.88,67.40 L300.88,67.26 L301.27,66.92 L301.66,67.26 L301.66,67.40 Z" fill="#155282"/>
<path d="M304.82,67.40 L304.82,67.38 L305.32,67.32 L305.82,67.38 L305.82,67.40 Z" fill="#155282"/>
<path d="M311.82,67.40 L311.82,67.24 L312.50,66.87 L313.18,67.24 L313.18,67.40 Z" fill="#155282"/>
<path d="M337.55,67.40 L337.55,67.17 L338.38,66.63 L339.21,67.17 L339.21,67.40 Z" fill="#155282"/>
<path d="M339.13,67.40 L339.13,67.22 L339.99,66.78 L340.86,67.22 L340.86,67.40 Z" fill="#155282"/>
<path d="M342.44,67.40 L342.44,67.29 L342.83,67.03 L343.21,67.29 L343.21,67.40 Z" fill="#155282"/>
<path d="M344.16,67.40 L344.16,67.38 L344.70,67.33 L345.23,67.38 L345.23,67.40 Z" fill="#155282"/>
<path d="M345.39,67.40 L345.39,67.36 L345.94,67.26 L346.49,67.36 L346.49,67.40 Z" fill="#155282"/>
<path d="M348.49,67.40 L348.49,67.35 L348.96,67.23 L349.44,67.35 L349.44,67.40 Z" fill="#155282"/>
<path d="M350.60,67.40 L350.60,67.27 L351.38,66.98 L352.17,67.27 L352.17,67.40 Z" fill="#155282"/>
<path d="M356.45,67.40 L356.45,67.35 L357.22,67.25 L358.00,67.35 L358.00,67.40 Z" fill="#155282"/>
<path d="M362.19,67.40 L362.19,67.33 L362.62,67.15 L363.05,67.33 L363.05,67.40 Z" fill="#155282"/>
<path d="M375.29,67.40 L375.29,67.14 L375.67,66.55 L376.06,67.14 L376.06,67.40 Z" fill="#155282"/>
<path d="M384.00,67.40 L384.00,67.36 L384.31,67.28 L384.62,67.36 L384.62,67.40 Z" fill="#155282"/>
<path d="M397.26,67.40 L397.26,67.16 L398.09,66.59 L398.91,67.16 L398.91,67.40 Z" fill="#155282"/>
<path d="M401.14,67.40 L401.14,67.21 L401.50,66.78 L401.87,67.21 L401.87,67.40 Z" fill="#155282"/>
<path d="M404.58,67.40 L404.58,67.38 L404.98,67.34 L405.39,67.38 L405.39,67.40 Z" fill="#155282"/>
<path d="M407.05,67.40 L407.05,67.16 L407.43,66.60 L407.81,67.16 L407.81,67.40 Z" fill="#155282"/>
<path d="M412.76,67.40 L412.76,67.21 L413.26,66.78 L413.77,67.21 L413.77,67.40 Z" fill="#155282"/>
<path d="M415.62,67.40 L415.62,67.21 L416.52,66.78 L417.41,67.21 L417.41,67.40 Z" fill="#155282"/>
<path d="M424.08,67.40 L424.08,67.27 L424.89,66.98 L425.70,67.27 L425.70,67.40 Z" fill="#155282"/>
<path d="M446.87,67.40 L446.87,67.39 L447.27,67.38 L447.68,67.39 L447.68,67.40 Z" fill="#155282"/>
<path d="M462.14,67.40 L462.14,67.26 L462.71,66.92 L463.27,67.26 L463.27,67.40 Z" fill="#155282"/>
<path d="M463.57,67.40 L463.57,67.26 L464.07,66.93 L464.57,67.26 L464.57,67.40 Z" fill="#155282"/>
<path d="M466.73,67.40 L466.73,67.19 L467.08,66.69 L467.43,67.19 L467.43,67.40 Z" fill="#155282"/>
<path d="M478.17,67.40 L478.17,67.30 L479.04,67.05 L479.91,67.30 L479.91,67.40 Z" fill="#155282"/>
<path d="M480.90,67.40 L480.90,67.26 L481.37,66.95 L481.84,67.26 L481.84,67.40 Z" fill="#155282"/>
<text x="293.7" y="62.00000000000001" font-size="8.4" fill="#231f20" stroke="#231f20" stroke-width="0.22" textLength="13.3" lengthAdjust="spacingAndGlyphs" >P26</text>
<path d="M488.0,57.00 H486.3 V68.40 H487.8" fill="none" stroke="#231f20" stroke-width="1.0"/>
<text x="489.0" y="59.50000000000001" font-size="6.9" fill="#231f20" stroke="#231f20" stroke-width="0.1" textLength="6.9" lengthAdjust="spacingAndGlyphs" >45</text>
<text x="489.0" y="69.4" font-size="6.9" fill="#231f20" stroke="#231f20" stroke-width="0.1" textLength="3.5" lengthAdjust="spacingAndGlyphs" >0</text>
<line x1="286" y1="83.80000000000001" x2="483.5" y2="83.80000000000001" stroke="#5a82ad" stroke-width="1.1" />
<path d="M290.29,83.30 L290.29,83.28 L290.95,83.23 L291.61,83.28 L291.61,83.30 Z" fill="#155282"/>
<path d="M294.98,83.30 L294.98,83.24 L295.78,83.10 L296.58,83.24 L296.58,83.30 Z" fill="#155282"/>
<path d="M296.02,83.30 L296.02,83.27 L296.40,83.20 L296.77,83.27 L296.77,83.30 Z" fill="#155282"/>
<path d="M297.80,83.30 L297.80,83.19 L298.54,82.93 L299.28,83.19 L299.28,83.30 Z" fill="#155282"/>
<path d="M304.31,83.30 L304.31,83.20 L304.96,82.97 L305.61,83.20 L305.61,83.30 Z" fill="#155282"/>
<path d="M308.44,83.30 L308.44,83.22 L308.87,83.05 L309.30,83.22 L309.30,83.30 Z" fill="#155282"/>
<path d="M317.05,83.30 L317.05,83.19 L317.50,82.92 L317.95,83.19 L317.95,83.30 Z" fill="#155282"/>
<path d="M321.39,83.30 L321.39,83.17 L322.29,82.86 L323.19,83.17 L323.19,83.30 Z" fill="#155282"/>
<path d="M333.71,83.30 L333.71,83.18 L334.04,82.90 L334.37,83.18 L334.37,83.30 Z" fill="#155282"/>
<path d="M339.43,83.30 L339.43,83.20 L340.08,82.95 L340.73,83.20 L340.73,83.30 Z" fill="#155282"/>
<path d="M353.57,83.30 L353.57,83.20 L354.36,82.97 L355.15,83.20 L355.15,83.30 Z" fill="#155282"/>
<path d="M361.54,83.30 L361.54,83.06 L362.22,82.51 L362.90,83.06 L362.90,83.30 Z" fill="#155282"/>
<path d="M373.87,83.30 L373.87,83.09 L374.70,82.60 L375.54,83.09 L375.54,83.30 Z" fill="#155282"/>
<path d="M385.01,83.30 L385.01,83.03 L385.78,82.40 L386.55,83.03 L386.55,83.30 Z" fill="#155282"/>
<path d="M386.83,83.30 L386.83,83.29 L387.69,83.25 L388.55,83.29 L388.55,83.30 Z" fill="#155282"/>
<path d="M393.01,83.30 L393.01,83.23 L393.57,83.08 L394.13,83.23 L394.13,83.30 Z" fill="#155282"/>
<path d="M399.01,83.30 L399.01,83.12 L399.71,82.70 L400.40,83.12 L400.40,83.30 Z" fill="#155282"/>
<path d="M410.53,83.30 L410.53,83.29 L411.31,83.28 L412.08,83.29 L412.08,83.30 Z" fill="#155282"/>
<path d="M417.06,83.30 L417.06,83.12 L417.54,82.72 L418.03,83.12 L418.03,83.30 Z" fill="#155282"/>
<path d="M423.63,83.30 L423.63,83.19 L424.00,82.94 L424.36,83.19 L424.36,83.30 Z" fill="#155282"/>
<path d="M434.27,83.30 L434.27,83.26 L435.02,83.17 L435.77,83.26 L435.77,83.30 Z" fill="#155282"/>
<path d="M443.58,83.30 L443.58,83.27 L444.03,83.20 L444.49,83.27 L444.49,83.30 Z" fill="#155282"/>
<path d="M446.99,83.30 L446.99,83.18 L447.62,82.89 L448.24,83.18 L448.24,83.30 Z" fill="#155282"/>
<path d="M448.53,83.30 L448.53,83.23 L449.36,83.06 L450.18,83.23 L450.18,83.30 Z" fill="#155282"/>
<path d="M455.75,83.30 L455.75,83.22 L456.18,83.04 L456.62,83.22 L456.62,83.30 Z" fill="#155282"/>
<path d="M470.71,83.30 L470.71,83.10 L471.60,82.63 L472.49,83.10 L472.49,83.30 Z" fill="#155282"/>
<path d="M474.02,83.30 L474.02,83.18 L474.67,82.90 L475.33,83.18 L475.33,83.30 Z" fill="#155282"/>
<path d="M477.92,83.30 L477.92,83.29 L478.30,83.26 L478.67,83.29 L478.67,83.30 Z" fill="#155282"/>
<path d="M479.40,83.30 L479.40,83.26 L479.90,83.17 L480.41,83.26 L480.41,83.30 Z" fill="#155282"/>
<text x="293.7" y="77.9" font-size="8.4" fill="#231f20" stroke="#231f20" stroke-width="0.22" textLength="13.3" lengthAdjust="spacingAndGlyphs" >P29</text>
<path d="M488.0,72.90 H486.3 V84.30 H487.8" fill="none" stroke="#231f20" stroke-width="1.0"/>
<text x="489.0" y="75.4" font-size="6.9" fill="#231f20" stroke="#231f20" stroke-width="0.1" textLength="6.9" lengthAdjust="spacingAndGlyphs" >45</text>
<text x="489.0" y="85.30000000000001" font-size="6.9" fill="#231f20" stroke="#231f20" stroke-width="0.1" textLength="3.5" lengthAdjust="spacingAndGlyphs" >0</text>
<line x1="286" y1="99.7" x2="483.5" y2="99.7" stroke="#e38a9d" stroke-width="1.3" />
<path d="M293.25,99.20 L293.25,99.01 L293.62,98.57 L293.99,99.01 L293.99,99.20 Z" fill="#cf0a2c"/>
<path d="M305.58,99.20 L305.58,99.08 L305.94,98.80 L306.30,99.08 L306.30,99.20 Z" fill="#cf0a2c"/>
<path d="M321.88,99.20 L321.88,99.09 L322.20,98.83 L322.53,99.09 L322.53,99.20 Z" fill="#cf0a2c"/>
<path d="M323.45,99.20 L323.45,99.17 L324.12,99.09 L324.80,99.17 L324.80,99.20 Z" fill="#cf0a2c"/>
<path d="M324.58,99.20 L324.58,99.20 L325.36,99.19 L326.15,99.20 L326.15,99.20 Z" fill="#cf0a2c"/>
<path d="M325.94,99.20 L325.94,99.07 L326.67,98.77 L327.40,99.07 L327.40,99.20 Z" fill="#cf0a2c"/>
<path d="M343.43,99.20 L343.43,99.08 L344.08,98.80 L344.74,99.08 L344.74,99.20 Z" fill="#cf0a2c"/>
<path d="M351.81,99.20 L351.81,99.06 L352.24,98.72 L352.67,99.06 L352.67,99.20 Z" fill="#cf0a2c"/>
<path d="M354.32,99.20 L354.32,99.16 L354.76,99.05 L355.20,99.16 L355.20,99.20 Z" fill="#cf0a2c"/>
<path d="M362.34,99.20 L362.34,99.01 L362.97,98.58 L363.61,99.01 L363.61,99.20 Z" fill="#cf0a2c"/>
<path d="M373.78,99.20 L373.78,99.13 L374.55,98.95 L375.31,99.13 L375.31,99.20 Z" fill="#cf0a2c"/>
<path d="M378.81,99.20 L378.81,99.13 L379.64,98.96 L380.47,99.13 L380.47,99.20 Z" fill="#cf0a2c"/>
<path d="M379.87,99.20 L379.87,99.16 L380.64,99.08 L381.42,99.16 L381.42,99.20 Z" fill="#cf0a2c"/>
<path d="M383.34,99.20 L383.34,99.11 L383.71,98.89 L384.08,99.11 L384.08,99.20 Z" fill="#cf0a2c"/>
<path d="M389.33,99.20 L389.33,99.18 L389.82,99.13 L390.31,99.18 L390.31,99.20 Z" fill="#cf0a2c"/>
<path d="M398.22,99.20 L398.22,99.08 L398.61,98.79 L398.99,99.08 L398.99,99.20 Z" fill="#cf0a2c"/>
<path d="M417.52,99.20 L417.52,99.05 L418.42,98.71 L419.31,99.05 L419.31,99.20 Z" fill="#cf0a2c"/>
<path d="M419.34,99.20 L419.34,99.11 L420.01,98.91 L420.67,99.11 L420.67,99.20 Z" fill="#cf0a2c"/>
<path d="M438.80,99.20 L438.80,99.13 L439.64,98.98 L440.48,99.13 L440.48,99.20 Z" fill="#cf0a2c"/>
<path d="M447.88,99.20 L447.88,99.20 L448.21,99.19 L448.54,99.20 L448.54,99.20 Z" fill="#cf0a2c"/>
<path d="M462.26,99.20 L462.26,99.01 L462.77,98.58 L463.28,99.01 L463.28,99.20 Z" fill="#cf0a2c"/>
<path d="M466.30,99.20 L466.30,99.12 L467.19,98.92 L468.09,99.12 L468.09,99.20 Z" fill="#cf0a2c"/>
<path d="M473.70,99.20 L473.70,99.16 L474.35,99.07 L475.00,99.16 L475.00,99.20 Z" fill="#cf0a2c"/>
<text x="293.7" y="93.8" font-size="8.4" fill="#231f20" stroke="#231f20" stroke-width="0.22" textLength="13.3" lengthAdjust="spacingAndGlyphs" >P03</text>
<path d="M488.0,88.80 H486.3 V100.20 H487.8" fill="none" stroke="#231f20" stroke-width="1.0"/>
<text x="489.0" y="91.3" font-size="6.9" fill="#231f20" stroke="#231f20" stroke-width="0.1" textLength="6.9" lengthAdjust="spacingAndGlyphs" >45</text>
<text x="489.0" y="101.2" font-size="6.9" fill="#231f20" stroke="#231f20" stroke-width="0.1" textLength="3.5" lengthAdjust="spacingAndGlyphs" >0</text>
<line x1="286" y1="115.6" x2="483.5" y2="115.6" stroke="#e38a9d" stroke-width="1.3" />
<path d="M295.98,115.10 L295.98,114.96 L296.49,114.64 L297.00,114.96 L297.00,115.10 Z" fill="#cf0a2c"/>
<path d="M330.68,115.10 L330.68,115.01 L331.15,114.81 L331.63,115.01 L331.63,115.10 Z" fill="#cf0a2c"/>
<path d="M332.07,115.10 L332.07,115.08 L332.66,115.02 L333.25,115.08 L333.25,115.10 Z" fill="#cf0a2c"/>
<path d="M359.35,115.10 L359.35,115.02 L360.07,114.85 L360.79,115.02 L360.79,115.10 Z" fill="#cf0a2c"/>
<path d="M370.91,115.10 L370.91,114.95 L371.67,114.62 L372.42,114.95 L372.42,115.10 Z" fill="#cf0a2c"/>
<path d="M372.78,115.10 L372.78,114.94 L373.59,114.58 L374.40,114.94 L374.40,115.10 Z" fill="#cf0a2c"/>
<path d="M384.17,115.10 L384.17,115.04 L384.94,114.90 L385.71,115.04 L385.71,115.10 Z" fill="#cf0a2c"/>
<path d="M401.43,115.10 L401.43,115.06 L402.26,114.95 L403.08,115.06 L403.08,115.10 Z" fill="#cf0a2c"/>
<path d="M408.37,115.10 L408.37,115.02 L409.24,114.83 L410.11,115.02 L410.11,115.10 Z" fill="#cf0a2c"/>
<path d="M419.57,115.10 L419.57,114.99 L420.46,114.73 L421.34,114.99 L421.34,115.10 Z" fill="#cf0a2c"/>
<path d="M427.43,115.10 L427.43,114.99 L428.13,114.74 L428.83,114.99 L428.83,115.10 Z" fill="#cf0a2c"/>
<path d="M442.22,115.10 L442.22,114.93 L442.96,114.54 L443.69,114.93 L443.69,115.10 Z" fill="#cf0a2c"/>
<path d="M450.99,115.10 L450.99,114.89 L451.30,114.41 L451.60,114.89 L451.60,115.10 Z" fill="#cf0a2c"/>
<path d="M465.53,115.10 L465.53,115.09 L465.90,115.07 L466.28,115.09 L466.28,115.10 Z" fill="#cf0a2c"/>
<path d="M467.89,115.10 L467.89,115.09 L468.47,115.07 L469.05,115.09 L469.05,115.10 Z" fill="#cf0a2c"/>
<path d="M468.98,115.10 L468.98,114.90 L469.39,114.43 L469.80,114.90 L469.80,115.10 Z" fill="#cf0a2c"/>
<text x="293.7" y="109.69999999999999" font-size="8.4" fill="#231f20" stroke="#231f20" stroke-width="0.22" textLength="13.3" lengthAdjust="spacingAndGlyphs" >P16</text>
<path d="M488.0,104.70 H486.3 V116.10 H487.8" fill="none" stroke="#231f20" stroke-width="1.0"/>
<text x="489.0" y="107.19999999999999" font-size="6.9" fill="#231f20" stroke="#231f20" stroke-width="0.1" textLength="6.9" lengthAdjust="spacingAndGlyphs" >45</text>
<text x="489.0" y="117.1" font-size="6.9" fill="#231f20" stroke="#231f20" stroke-width="0.1" textLength="3.5" lengthAdjust="spacingAndGlyphs" >0</text>
<line x1="286" y1="131.5" x2="483.5" y2="131.5" stroke="#e38a9d" stroke-width="1.3" />
<path d="M288.85,131.00 L288.85,130.80 L289.64,130.34 L290.44,130.80 L290.44,131.00 Z" fill="#cf0a2c"/>
<path d="M302.67,131.00 L302.67,130.93 L303.46,130.76 L304.25,130.93 L304.25,131.00 Z" fill="#cf0a2c"/>
<path d="M313.07,131.00 L313.07,130.96 L313.52,130.86 L313.96,130.96 L313.96,131.00 Z" fill="#cf0a2c"/>
<path d="M315.87,131.00 L315.87,130.94 L316.25,130.81 L316.63,130.94 L316.63,131.00 Z" fill="#cf0a2c"/>
<path d="M333.32,131.00 L333.32,130.89 L334.05,130.62 L334.78,130.89 L334.78,131.00 Z" fill="#cf0a2c"/>
<path d="M340.33,131.00 L340.33,130.95 L340.81,130.84 L341.29,130.95 L341.29,131.00 Z" fill="#cf0a2c"/>
<path d="M346.49,131.00 L346.49,130.93 L347.07,130.77 L347.65,130.93 L347.65,131.00 Z" fill="#cf0a2c"/>
<path d="M354.35,131.00 L354.35,130.86 L354.97,130.53 L355.58,130.86 L355.58,131.00 Z" fill="#cf0a2c"/>
<path d="M375.69,131.00 L375.69,130.82 L376.17,130.40 L376.64,130.82 L376.64,131.00 Z" fill="#cf0a2c"/>
<path d="M389.51,131.00 L389.51,130.87 L390.08,130.56 L390.64,130.87 L390.64,131.00 Z" fill="#cf0a2c"/>
<path d="M393.03,131.00 L393.03,130.87 L393.38,130.58 L393.73,130.87 L393.73,131.00 Z" fill="#cf0a2c"/>
<path d="M411.06,131.00 L411.06,130.92 L411.91,130.72 L412.76,130.92 L412.76,131.00 Z" fill="#cf0a2c"/>
<path d="M412.58,131.00 L412.58,130.88 L413.25,130.59 L413.93,130.88 L413.93,131.00 Z" fill="#cf0a2c"/>
<path d="M421.33,131.00 L421.33,130.96 L422.12,130.88 L422.91,130.96 L422.91,131.00 Z" fill="#cf0a2c"/>
<path d="M425.00,131.00 L425.00,130.98 L425.74,130.92 L426.47,130.98 L426.47,131.00 Z" fill="#cf0a2c"/>
<path d="M428.34,131.00 L428.34,130.98 L428.93,130.93 L429.53,130.98 L429.53,131.00 Z" fill="#cf0a2c"/>
<path d="M430.95,131.00 L430.95,130.98 L431.71,130.94 L432.47,130.98 L432.47,131.00 Z" fill="#cf0a2c"/>
<path d="M436.36,131.00 L436.36,130.89 L436.95,130.65 L437.55,130.89 L437.55,131.00 Z" fill="#cf0a2c"/>
<path d="M439.94,131.00 L439.94,130.86 L440.78,130.53 L441.61,130.86 L441.61,131.00 Z" fill="#cf0a2c"/>
<path d="M449.38,131.00 L449.38,130.79 L450.23,130.32 L451.09,130.79 L451.09,131.00 Z" fill="#cf0a2c"/>
<path d="M458.20,131.00 L458.20,130.87 L459.06,130.56 L459.92,130.87 L459.92,131.00 Z" fill="#cf0a2c"/>
<path d="M465.22,131.00 L465.22,130.86 L465.89,130.52 L466.55,130.86 L466.55,131.00 Z" fill="#cf0a2c"/>
<path d="M474.37,131.00 L474.37,130.82 L474.81,130.39 L475.26,130.82 L475.26,131.00 Z" fill="#cf0a2c"/>
<text x="293.7" y="125.6" font-size="8.4" fill="#231f20" stroke="#231f20" stroke-width="0.22" textLength="13.3" lengthAdjust="spacingAndGlyphs" >P18</text>
<path d="M488.0,120.60 H486.3 V132.00 H487.8" fill="none" stroke="#231f20" stroke-width="1.0"/>
<text x="489.0" y="123.1" font-size="6.9" fill="#231f20" stroke="#231f20" stroke-width="0.1" textLength="6.9" lengthAdjust="spacingAndGlyphs" >45</text>
<text x="489.0" y="133.0" font-size="6.9" fill="#231f20" stroke="#231f20" stroke-width="0.1" textLength="3.5" lengthAdjust="spacingAndGlyphs" >0</text>
<line x1="286" y1="147.4" x2="483.5" y2="147.4" stroke="#e38a9d" stroke-width="1.3" />
<path d="M291.82,146.90 L291.82,146.69 L292.57,146.20 L293.33,146.69 L293.33,146.90 Z" fill="#cf0a2c"/>
<path d="M302.67,146.90 L302.67,146.80 L303.06,146.55 L303.45,146.80 L303.45,146.90 Z" fill="#cf0a2c"/>
<path d="M340.03,146.90 L340.03,146.82 L340.78,146.62 L341.52,146.82 L341.52,146.90 Z" fill="#cf0a2c"/>
<path d="M361.87,146.90 L361.87,146.89 L362.26,146.85 L362.65,146.89 L362.65,146.90 Z" fill="#cf0a2c"/>
<path d="M365.56,146.90 L365.56,146.71 L366.41,146.27 L367.26,146.71 L367.26,146.90 Z" fill="#cf0a2c"/>
<path d="M370.26,146.90 L370.26,146.69 L371.08,146.22 L371.90,146.69 L371.90,146.90 Z" fill="#cf0a2c"/>
<path d="M372.55,146.90 L372.55,146.77 L372.89,146.45 L373.22,146.77 L373.22,146.90 Z" fill="#cf0a2c"/>
<path d="M374.62,146.90 L374.62,146.77 L375.02,146.47 L375.41,146.77 L375.41,146.90 Z" fill="#cf0a2c"/>
<path d="M380.90,146.90 L380.90,146.72 L381.73,146.30 L382.56,146.72 L382.56,146.90 Z" fill="#cf0a2c"/>
<path d="M383.74,146.90 L383.74,146.80 L384.12,146.58 L384.50,146.80 L384.50,146.90 Z" fill="#cf0a2c"/>
<path d="M415.25,146.90 L415.25,146.85 L415.63,146.75 L416.02,146.85 L416.02,146.90 Z" fill="#cf0a2c"/>
<path d="M427.97,146.90 L427.97,146.84 L428.34,146.69 L428.72,146.84 L428.72,146.90 Z" fill="#cf0a2c"/>
<path d="M429.03,146.90 L429.03,146.69 L429.90,146.21 L430.78,146.69 L430.78,146.90 Z" fill="#cf0a2c"/>
<path d="M434.84,146.90 L434.84,146.79 L435.23,146.54 L435.62,146.79 L435.62,146.90 Z" fill="#cf0a2c"/>
<path d="M442.18,146.90 L442.18,146.75 L442.97,146.40 L443.77,146.75 L443.77,146.90 Z" fill="#cf0a2c"/>
<path d="M449.92,146.90 L449.92,146.90 L450.33,146.89 L450.74,146.90 L450.74,146.90 Z" fill="#cf0a2c"/>
<path d="M452.30,146.90 L452.30,146.85 L453.06,146.72 L453.82,146.85 L453.82,146.90 Z" fill="#cf0a2c"/>
<path d="M457.81,146.90 L457.81,146.84 L458.55,146.71 L459.28,146.84 L459.28,146.90 Z" fill="#cf0a2c"/>
<path d="M468.05,146.90 L468.05,146.82 L468.81,146.64 L469.57,146.82 L469.57,146.90 Z" fill="#cf0a2c"/>
<path d="M471.38,146.90 L471.38,146.87 L472.15,146.79 L472.92,146.87 L472.92,146.90 Z" fill="#cf0a2c"/>
<path d="M480.45,146.90 L480.45,146.73 L480.96,146.32 L481.48,146.73 L481.48,146.90 Z" fill="#cf0a2c"/>
<text x="293.7" y="141.5" font-size="8.4" fill="#231f20" stroke="#231f20" stroke-width="0.22" textLength="13.3" lengthAdjust="spacingAndGlyphs" >P20</text>
<path d="M488.0,136.50 H486.3 V147.90 H487.8" fill="none" stroke="#231f20" stroke-width="1.0"/>
<text x="489.0" y="139.0" font-size="6.9" fill="#231f20" stroke="#231f20" stroke-width="0.1" textLength="6.9" lengthAdjust="spacingAndGlyphs" >45</text>
<text x="489.0" y="148.9" font-size="6.9" fill="#231f20" stroke="#231f20" stroke-width="0.1" textLength="3.5" lengthAdjust="spacingAndGlyphs" >0</text>
<path d="M371.00,35.70 L371.00,35.50 L373.30,34.10 L374.80,32.60 L376.70,33.60 L378.20,30.20 L379.60,27.30 L381.10,25.30 L382.60,26.30 L383.60,29.20 L384.50,30.70 L385.50,29.70 L386.50,31.70 L387.50,34.60 L388.40,34.00 L389.50,34.80 L391.00,34.20 L392.00,35.40 L395.00,35.00 L397.00,34.60 L399.00,35.20 L400.00,35.50 L400.00,35.70 Z" fill="#155282"/>
<path d="M410.30,35.70 L410.30,35.50 L412.70,34.30 L414.20,32.60 L415.10,27.80 L416.10,29.70 L417.10,30.70 L417.90,25.60 L418.80,29.70 L419.50,31.70 L420.50,30.70 L421.50,32.60 L422.70,32.60 L423.40,35.00 L424.90,35.50 L424.90,35.70 Z" fill="#155282"/>
<path d="M376.50,51.60 L376.50,51.40 L376.80,40.90 L378.60,40.90 L378.90,51.40 L378.90,51.60 Z" fill="url(#gb)"/>
<path d="M379.80,51.60 L379.80,51.40 L380.00,41.00 L382.00,41.00 L382.30,47.00 L382.80,47.00 L383.10,41.00 L384.60,41.00 L385.00,50.20 L386.00,51.40 L386.00,51.60 Z" fill="url(#gb)"/>
<path d="M413.40,51.60 L413.40,51.40 L413.70,41.00 L415.30,41.00 L415.70,45.00 L416.20,45.00 L416.50,41.00 L418.00,41.00 L418.40,45.00 L418.80,45.00 L419.10,41.00 L420.40,41.00 L420.80,45.00 L421.20,41.00 L422.40,41.00 L423.20,51.40 L423.20,51.60 Z" fill="url(#gb)"/>
<path d="M395.80,51.60 L395.80,51.40 L396.30,49.80 L396.80,51.40 L396.80,51.60 Z" fill="#155282"/>
<path d="M405.60,51.60 L405.60,51.40 L406.30,50.40 L407.00,51.40 L407.00,51.60 Z" fill="#155282"/>
<path d="M377.00,67.50 L377.00,67.30 L377.70,65.60 L378.50,59.80 L379.20,59.30 L379.60,66.60 L380.80,62.20 L381.80,61.50 L382.80,65.10 L383.40,65.00 L383.80,57.30 L384.50,57.30 L385.00,65.60 L386.50,67.10 L387.00,67.40 L387.00,67.50 Z" fill="#155282"/>
<path d="M414.30,67.50 L414.30,67.40 L414.80,66.60 L415.40,61.70 L416.00,66.60 L417.20,58.30 L418.10,59.80 L418.70,66.10 L420.00,64.60 L421.00,66.80 L422.50,67.40 L422.50,67.50 Z" fill="#155282"/>
<path d="M377.30,83.40 L377.30,83.20 L377.80,81.30 L378.70,75.40 L379.60,75.40 L380.60,73.90 L381.60,74.40 L382.60,78.30 L384.00,76.90 L385.00,76.60 L385.70,79.30 L386.70,83.00 L387.50,83.20 L387.50,83.40 Z" fill="#155282"/>
<path d="M413.80,83.40 L413.80,83.20 L415.10,78.30 L416.10,79.80 L417.10,78.10 L418.10,80.30 L419.00,81.30 L420.00,79.80 L421.00,79.10 L422.00,81.30 L423.40,82.70 L424.40,83.20 L424.40,83.40 Z" fill="#155282"/>
<path d="M438.30,83.40 L438.30,83.20 L439.00,82.00 L439.80,83.20 L439.80,83.40 Z" fill="#155282"/>
<path d="M414.20,99.30 L414.20,99.30 L415.50,98.00 L416.50,97.50 L417.30,95.70 L418.00,97.00 L419.00,96.50 L420.00,98.50 L422.00,99.20 L422.00,99.30 Z" fill="url(#gr)"/>
<path d="M378.80,99.30 L378.80,99.30 L379.80,98.00 L380.80,99.30 L380.80,99.30 Z" fill="url(#gr)"/>
<path d="M378.80,115.20 L378.80,115.10 L379.60,113.80 L380.40,115.10 L380.40,115.20 Z" fill="url(#gr)"/>
<path d="M372.30,131.10 L372.30,130.80 L373.20,129.80 L374.00,130.80 L374.00,131.10 Z" fill="url(#gr)"/>
<path d="M377.50,131.10 L377.50,130.80 L378.20,129.60 L378.60,126.00 L379.20,125.80 L379.60,129.50 L380.30,129.00 L380.80,127.50 L381.30,126.80 L381.80,128.00 L382.40,126.50 L383.10,126.30 L383.60,127.50 L384.00,125.30 L384.50,125.50 L385.00,126.00 L385.50,128.50 L386.00,129.20 L387.00,129.70 L388.90,129.20 L390.40,130.80 L390.40,131.10 Z" fill="url(#gr)"/>
<path d="M394.30,131.10 L394.30,130.80 L395.50,129.70 L398.00,129.50 L399.20,130.80 L399.20,131.10 Z" fill="url(#gr)"/>
<path d="M404.80,131.10 L404.80,130.80 L405.40,128.50 L406.00,130.80 L406.00,131.10 Z" fill="url(#gr)"/>
<path d="M413.50,131.10 L413.50,130.80 L414.20,128.20 L415.50,128.70 L416.50,126.30 L417.50,127.50 L418.50,127.00 L420.00,128.20 L422.00,128.50 L423.40,130.80 L423.40,131.10 Z" fill="url(#gr)"/>
<path d="M426.50,131.10 L426.50,130.80 L427.20,129.80 L428.00,130.80 L428.00,131.10 Z" fill="url(#gr)"/>
<path d="M372.30,147.00 L372.30,146.80 L372.80,145.60 L373.40,146.80 L373.40,147.00 Z" fill="url(#gr)"/>
<path d="M377.80,147.00 L377.80,146.80 L378.20,144.90 L378.80,141.50 L379.30,141.40 L379.70,145.00 L380.60,144.30 L381.30,143.50 L382.10,142.90 L383.10,142.60 L383.80,141.50 L384.10,140.00 L384.60,139.80 L385.00,143.40 L385.60,144.00 L386.50,144.80 L388.40,145.80 L392.30,146.30 L395.50,146.30 L396.30,144.50 L397.00,146.30 L400.00,146.80 L400.00,147.00 Z" fill="url(#gr)"/>
<path d="M404.80,147.00 L404.80,146.80 L405.40,145.50 L406.00,146.80 L406.00,147.00 Z" fill="url(#gr)"/>
<path d="M415.20,147.00 L415.20,146.80 L416.00,145.60 L418.00,145.80 L421.50,146.80 L421.50,147.00 Z" fill="url(#gr)"/>
<line x1="379.5" y1="22.4" x2="379.5" y2="168.0" stroke="#231f20" stroke-width="1.1" stroke-dasharray="4.3 2.06"/>
<text x="453.8" y="138.8" font-size="7.6" fill="#231f20" stroke="#231f20" stroke-width="0.12" textLength="15.7" lengthAdjust="spacingAndGlyphs" >14 K</text>
<path d="M441.6,139.4 V141.1 H481.4 V139.4" fill="none" stroke="#231f20" stroke-width="0.9"/>
<line x1="286" y1="160.2" x2="418.5" y2="160.2" stroke="#8c8c8c" stroke-width="1.3" />
<rect x="292.85" y="159.35" width="1.3" height="1.7" fill="#1a1a1a"/>
<rect x="300.15" y="159.35" width="1.3" height="1.7" fill="#1a1a1a"/>
<rect x="304.85" y="159.35" width="1.3" height="1.7" fill="#1a1a1a"/>
<rect x="309.55" y="159.35" width="1.3" height="1.7" fill="#1a1a1a"/>
<rect x="314.55" y="159.35" width="1.3" height="1.7" fill="#1a1a1a"/>
<rect x="319.85" y="159.35" width="1.3" height="1.7" fill="#1a1a1a"/>
<rect x="324.85" y="159.35" width="1.3" height="1.7" fill="#1a1a1a"/>
<rect x="329.85" y="159.35" width="1.3" height="1.7" fill="#1a1a1a"/>
<rect x="334.85" y="159.35" width="1.3" height="1.7" fill="#1a1a1a"/>
<rect x="339.85" y="159.35" width="1.3" height="1.7" fill="#1a1a1a"/>
<rect x="344.85" y="159.35" width="1.3" height="1.7" fill="#1a1a1a"/>
<rect x="349.85" y="159.35" width="1.3" height="1.7" fill="#1a1a1a"/>
<rect x="352.85" y="159.35" width="1.3" height="1.7" fill="#1a1a1a"/>
<rect x="357.85" y="159.35" width="1.3" height="1.7" fill="#1a1a1a"/>
<rect x="361.85" y="159.35" width="1.3" height="1.7" fill="#1a1a1a"/>
<rect x="368.65" y="159.35" width="1.3" height="1.7" fill="#1a1a1a"/>
<rect x="375.55" y="159.35" width="1.3" height="1.7" fill="#1a1a1a"/>
<rect x="380.85" y="159.35" width="1.3" height="1.7" fill="#1a1a1a"/>
<rect x="385.85" y="159.35" width="1.3" height="1.7" fill="#1a1a1a"/>
<rect x="390.85" y="159.35" width="1.3" height="1.7" fill="#1a1a1a"/>
<rect x="395.85" y="159.35" width="1.3" height="1.7" fill="#1a1a1a"/>
<rect x="400.85" y="159.35" width="1.3" height="1.7" fill="#1a1a1a"/>
<rect x="405.85" y="159.35" width="1.3" height="1.7" fill="#1a1a1a"/>
<rect x="410.85" y="159.35" width="1.3" height="1.7" fill="#1a1a1a"/>
<rect x="309.75" y="158.6" width="0.9" height="3.2" fill="#1a1a1a"/>
<rect x="320.05" y="158.6" width="0.9" height="3.2" fill="#1a1a1a"/>
<rect x="286.0" y="158.8" width="4.2" height="2.8" fill="#1a1a1a"/>
<circle cx="418.5" cy="160.2" r="1.3" fill="#1a1a1a"/>
<text x="424.4" y="162.8" font-size="8.4" fill="#231f20" stroke="#231f20" stroke-width="0.12" font-style="italic" textLength="15.6" lengthAdjust="spacingAndGlyphs" >WT1</text>
<text x="386.7" y="171.7" font-size="8.2" fill="#231f20" stroke="#231f20" stroke-width="0.12" font-style="italic" textLength="28.5" lengthAdjust="spacingAndGlyphs" >WT1-AS</text>
<line x1="419.5" y1="169.2" x2="484.5" y2="169.2" stroke="#8c8c8c" stroke-width="1.3" />
<rect x="419.35" y="168.35" width="1.3" height="1.7" fill="#1a1a1a"/>
<rect x="423.65" y="168.35" width="1.3" height="1.7" fill="#1a1a1a"/>
<rect x="428.55" y="168.35" width="1.3" height="1.7" fill="#1a1a1a"/>
<rect x="433.35" y="168.35" width="1.3" height="1.7" fill="#1a1a1a"/>
<rect x="438.25" y="168.35" width="1.3" height="1.7" fill="#1a1a1a"/>
<rect x="443.05" y="168.35" width="1.3" height="1.7" fill="#1a1a1a"/>
<rect x="447.95" y="168.35" width="1.3" height="1.7" fill="#1a1a1a"/>
<rect x="452.75" y="168.35" width="1.3" height="1.7" fill="#1a1a1a"/>
<rect x="457.65" y="168.35" width="1.3" height="1.7" fill="#1a1a1a"/>
<rect x="462.45" y="168.35" width="1.3" height="1.7" fill="#1a1a1a"/>
<rect x="465.35" y="168.35" width="1.3" height="1.7" fill="#1a1a1a"/>
<rect x="477.65" y="168.35" width="1.3" height="1.7" fill="#1a1a1a"/>
<rect x="483.35" y="168.35" width="1.3" height="1.7" fill="#1a1a1a"/>
<ellipse cx="470.3" cy="169.2" rx="1.4" ry="1.3" fill="#1a1a1a"/>
<text x="7.0" y="194.2" font-size="10.6" fill="#000" stroke="#000" stroke-width="0.12" font-weight="bold" >C</text>
<text x="13.5" y="210.1" font-size="6.6" fill="#333" stroke="#333" stroke-width="0.1" textLength="51.8" lengthAdjust="spacingAndGlyphs" >chr11: 32,415,000</text>
<text x="70.8" y="210.2" font-size="6.6" fill="#333" stroke="#333" stroke-width="0.1" textLength="32.3" lengthAdjust="spacingAndGlyphs" >32,420,000</text>
<text x="118.2" y="210.2" font-size="6.6" fill="#333" stroke="#333" stroke-width="0.1" textLength="31.6" lengthAdjust="spacingAndGlyphs" >32,425,000</text>
<text x="165.7" y="210.2" font-size="6.6" fill="#333" stroke="#333" stroke-width="0.1" textLength="32.0" lengthAdjust="spacingAndGlyphs" >32,430,000</text>
<text x="213.1" y="210.2" font-size="6.6" fill="#333" stroke="#333" stroke-width="0.1" textLength="32.1" lengthAdjust="spacingAndGlyphs" >32,435,000</text>
<line x1="39.4" y1="212.4" x2="39.4" y2="215.0" stroke="#231f20" stroke-width="0.9" />
<line x1="86.6" y1="212.4" x2="86.6" y2="215.0" stroke="#231f20" stroke-width="0.9" />
<line x1="134.3" y1="212.4" x2="134.3" y2="215.0" stroke="#231f20" stroke-width="0.9" />
<line x1="181.3" y1="212.4" x2="181.3" y2="215.0" stroke="#231f20" stroke-width="0.9" />
<line x1="229.0" y1="212.4" x2="229.0" y2="215.0" stroke="#231f20" stroke-width="0.9" />
<line x1="106.8" y1="200.5" x2="201.7" y2="200.5" stroke="#231f20" stroke-width="1.0" />
<line x1="107.3" y1="199.0" x2="107.3" y2="202.0" stroke="#231f20" stroke-width="1.0" />
<line x1="201.3" y1="199.0" x2="201.3" y2="202.0" stroke="#231f20" stroke-width="1.0" />
<text x="145.1" y="198.2" font-size="7.6" fill="#231f20" stroke="#231f20" stroke-width="0.12" textLength="18.8" lengthAdjust="spacingAndGlyphs" >10 kb</text>
<text x="205.1" y="201.2" font-size="8.2" fill="#231f20" stroke="#231f20" stroke-width="0.12" textLength="18.2" lengthAdjust="spacingAndGlyphs" >hg38</text>
<line x1="43.6" y1="242.4" x2="243.5" y2="242.4" stroke="#0f2a48" stroke-width="1.3" />
<line x1="243.0" y1="242.4" x2="250.5" y2="242.4" stroke="#555" stroke-width="1.1" />
<path d="M45.52,241.90 L45.52,241.80 L46.31,241.55 L47.10,241.80 L47.10,241.90 Z" fill="#155282"/>
<path d="M49.95,241.90 L49.95,241.83 L50.30,241.65 L50.66,241.83 L50.66,241.90 Z" fill="#155282"/>
<path d="M56.06,241.90 L56.06,241.63 L56.69,241.01 L57.33,241.63 L57.33,241.90 Z" fill="#155282"/>
<path d="M58.49,241.90 L58.49,241.79 L58.83,241.55 L59.17,241.79 L59.17,241.90 Z" fill="#155282"/>
<path d="M67.51,241.90 L67.51,241.65 L68.39,241.08 L69.26,241.65 L69.26,241.90 Z" fill="#155282"/>
<path d="M71.54,241.90 L71.54,241.84 L72.37,241.70 L73.21,241.84 L73.21,241.90 Z" fill="#155282"/>
<path d="M77.09,241.90 L77.09,241.74 L77.66,241.38 L78.23,241.74 L78.23,241.90 Z" fill="#155282"/>
<path d="M86.43,241.90 L86.43,241.73 L86.80,241.33 L87.17,241.73 L87.17,241.90 Z" fill="#155282"/>
<path d="M90.55,241.90 L90.55,241.84 L91.36,241.71 L92.18,241.84 L92.18,241.90 Z" fill="#155282"/>
<path d="M95.47,241.90 L95.47,241.75 L96.08,241.41 L96.69,241.75 L96.69,241.90 Z" fill="#155282"/>
<path d="M99.10,241.90 L99.10,241.90 L99.46,241.89 L99.81,241.90 L99.81,241.90 Z" fill="#155282"/>
<path d="M100.33,241.90 L100.33,241.88 L101.10,241.84 L101.86,241.88 L101.86,241.90 Z" fill="#155282"/>
<path d="M106.76,241.90 L106.76,241.75 L107.15,241.40 L107.54,241.75 L107.54,241.90 Z" fill="#155282"/>
<path d="M113.21,241.90 L113.21,241.90 L113.62,241.89 L114.04,241.90 L114.04,241.90 Z" fill="#155282"/>
<path d="M116.72,241.90 L116.72,241.66 L117.54,241.10 L118.36,241.66 L118.36,241.90 Z" fill="#155282"/>
<path d="M123.61,241.90 L123.61,241.62 L124.10,240.98 L124.59,241.62 L124.59,241.90 Z" fill="#155282"/>
<path d="M128.01,241.90 L128.01,241.84 L128.71,241.71 L129.42,241.84 L129.42,241.90 Z" fill="#155282"/>
<path d="M130.38,241.90 L130.38,241.87 L130.76,241.80 L131.13,241.87 L131.13,241.90 Z" fill="#155282"/>
<path d="M131.54,241.90 L131.54,241.71 L132.14,241.28 L132.75,241.71 L132.75,241.90 Z" fill="#155282"/>
<path d="M136.70,241.90 L136.70,241.79 L137.28,241.53 L137.86,241.79 L137.86,241.90 Z" fill="#155282"/>
<path d="M140.32,241.90 L140.32,241.86 L140.67,241.76 L141.01,241.86 L141.01,241.90 Z" fill="#155282"/>
<path d="M142.20,241.90 L142.20,241.65 L142.80,241.07 L143.39,241.65 L143.39,241.90 Z" fill="#155282"/>
<path d="M148.06,241.90 L148.06,241.86 L148.44,241.78 L148.82,241.86 L148.82,241.90 Z" fill="#155282"/>
<path d="M151.25,241.90 L151.25,241.75 L151.72,241.39 L152.19,241.75 L152.19,241.90 Z" fill="#155282"/>
<path d="M155.28,241.90 L155.28,241.68 L155.70,241.16 L156.12,241.68 L156.12,241.90 Z" fill="#155282"/>
<path d="M177.05,241.90 L177.05,241.62 L177.85,240.95 L178.66,241.62 L178.66,241.90 Z" fill="#155282"/>
<path d="M188.01,241.90 L188.01,241.72 L188.68,241.31 L189.34,241.72 L189.34,241.90 Z" fill="#155282"/>
<path d="M190.43,241.90 L190.43,241.68 L191.12,241.16 L191.81,241.68 L191.81,241.90 Z" fill="#155282"/>
<path d="M204.61,241.90 L204.61,241.76 L205.15,241.43 L205.69,241.76 L205.69,241.90 Z" fill="#155282"/>
<path d="M205.97,241.90 L205.97,241.88 L206.86,241.84 L207.75,241.88 L207.75,241.90 Z" fill="#155282"/>
<path d="M209.30,241.90 L209.30,241.81 L210.10,241.60 L210.90,241.81 L210.90,241.90 Z" fill="#155282"/>
<path d="M210.92,241.90 L210.92,241.76 L211.59,241.45 L212.25,241.76 L212.25,241.90 Z" fill="#155282"/>
<path d="M237.78,241.90 L237.78,241.86 L238.46,241.77 L239.15,241.86 L239.15,241.90 Z" fill="#155282"/>
<path d="M240.23,241.90 L240.23,241.82 L240.87,241.65 L241.50,241.82 L241.50,241.90 Z" fill="#155282"/>
<path d="M241.87,241.90 L241.87,241.69 L242.54,241.21 L243.21,241.69 L243.21,241.90 Z" fill="#155282"/>
<path d="M84.00,242.40 L84.00,240.60 L86.70,240.30 L87.50,239.80 L90.20,239.80 L91.10,237.90 L92.40,233.90 L93.30,230.80 L94.20,230.40 L94.80,233.00 L95.30,237.00 L96.40,237.50 L96.80,222.50 L97.20,221.10 L98.60,221.30 L99.00,230.80 L99.80,233.00 L100.80,231.70 L101.30,225.50 L102.10,224.40 L103.00,224.20 L103.60,220.60 L104.50,217.50 L105.40,218.00 L106.10,220.60 L107.20,222.40 L108.30,226.40 L109.70,228.20 L111.40,229.00 L113.20,229.90 L115.00,230.80 L116.00,227.30 L116.90,224.60 L117.80,225.50 L118.70,229.50 L119.80,234.40 L121.20,236.60 L122.90,237.20 L124.50,237.70 L125.60,240.50 L126.30,241.40 L127.00,242.40 L127.00,242.40 Z" fill="#155282"/>
<path d="M205.00,242.40 L205.00,241.40 L211.50,241.40 L212.50,241.00 L213.80,240.10 L216.50,238.80 L218.30,236.10 L219.60,235.20 L220.90,234.80 L222.30,232.10 L223.10,232.60 L223.80,239.70 L224.30,241.00 L225.80,241.00 L226.40,230.80 L227.60,229.00 L228.70,224.60 L229.80,220.20 L230.80,220.20 L231.50,226.40 L232.40,238.80 L233.30,241.00 L234.60,239.70 L236.00,237.90 L237.30,237.50 L238.60,238.80 L240.40,240.50 L242.20,241.40 L243.00,242.40 L243.00,242.40 Z" fill="#155282"/>
<line x1="99.9" y1="233.0" x2="99.9" y2="241.8" stroke="#8e3a62" stroke-width="1.0" />
<text x="19.2" y="254.4" font-size="7.4" fill="#444" stroke="#444" stroke-width="0.05" textLength="29.2" lengthAdjust="spacingAndGlyphs" >XbaI sites:</text>
<path d="M50.40,246.4 H54.00" stroke="#7e3795" stroke-width="0.8"/>
<path d="M50.20,246.4 L51.40,245.5 L51.40,247.3 Z" fill="#7e3795"/>
<line x1="54.3" y1="245.0" x2="54.3" y2="247.9" stroke="#7e3795" stroke-width="0.9" />
<text x="54.0" y="254.4" font-size="7.6" fill="#4a4a4a" stroke="#4a4a4a" stroke-width="0.05" text-anchor="middle" >A</text>
<path d="M61.00,246.4 H64.60" stroke="#7e3795" stroke-width="0.8"/>
<path d="M60.80,246.4 L62.00,245.5 L62.00,247.3 Z" fill="#7e3795"/>
<line x1="64.89999999999999" y1="245.0" x2="64.89999999999999" y2="247.9" stroke="#7e3795" stroke-width="0.9" />
<text x="64.9" y="254.4" font-size="7.6" fill="#4a4a4a" stroke="#4a4a4a" stroke-width="0.05" text-anchor="middle" >B</text>
<path d="M90.40,246.4 H94.00" stroke="#7e3795" stroke-width="0.8"/>
<path d="M90.20,246.4 L91.40,245.5 L91.40,247.3 Z" fill="#7e3795"/>
<line x1="94.3" y1="245.0" x2="94.3" y2="247.9" stroke="#7e3795" stroke-width="0.9" />
<text x="94.1" y="254.4" font-size="7.6" fill="#4a4a4a" stroke="#4a4a4a" stroke-width="0.05" text-anchor="middle" >C</text>
<path d="M99.50,246.4 H103.10" stroke="#7e3795" stroke-width="0.8"/>
<path d="M99.30,246.4 L100.50,245.5 L100.50,247.3 Z" fill="#7e3795"/>
<line x1="103.39999999999999" y1="245.0" x2="103.39999999999999" y2="247.9" stroke="#7e3795" stroke-width="0.9" />
<text x="103.2" y="254.4" font-size="7.6" fill="#4a4a4a" stroke="#4a4a4a" stroke-width="0.05" text-anchor="middle" >D</text>
<path d="M117.00,246.4 H120.60" stroke="#7e3795" stroke-width="0.8"/>
<path d="M116.80,246.4 L118.00,245.5 L118.00,247.3 Z" fill="#7e3795"/>
<line x1="120.89999999999999" y1="245.0" x2="120.89999999999999" y2="247.9" stroke="#7e3795" stroke-width="0.9" />
<text x="120.64999999999999" y="254.4" font-size="7.6" fill="#4a4a4a" stroke="#4a4a4a" stroke-width="0.05" text-anchor="middle" >E</text>
<path d="M147.00,246.4 H150.60" stroke="#7e3795" stroke-width="0.8"/>
<path d="M146.80,246.4 L148.00,245.5 L148.00,247.3 Z" fill="#7e3795"/>
<line x1="150.9" y1="245.0" x2="150.9" y2="247.9" stroke="#7e3795" stroke-width="0.9" />
<text x="150.65" y="254.4" font-size="7.6" fill="#4a4a4a" stroke="#4a4a4a" stroke-width="0.05" text-anchor="middle" >F</text>
<path d="M182.90,246.4 H186.50" stroke="#7e3795" stroke-width="0.8"/>
<path d="M182.70,246.4 L183.90,245.5 L183.90,247.3 Z" fill="#7e3795"/>
<line x1="186.8" y1="245.0" x2="186.8" y2="247.9" stroke="#7e3795" stroke-width="0.9" />
<text x="186.20000000000002" y="254.4" font-size="7.6" fill="#4a4a4a" stroke="#4a4a4a" stroke-width="0.05" text-anchor="middle" >G</text>
<path d="M233.7,246.3 L235.4,244.6 L235.4,243.8 L236.4,243.8 L236.4,245.4 L237.1,246.3 L236.4,247.2 L236.4,248.9 L235.4,248.9 L235.4,248.0 Z" fill="#2fb040"/>
<line x1="238.45" y1="244.6" x2="238.45" y2="248.1" stroke="#7e3795" stroke-width="1.2" />
<text x="230.1" y="254.4" font-size="7.6" fill="#4a4a4a" stroke="#4a4a4a" stroke-width="0.05" textLength="20.3" lengthAdjust="spacingAndGlyphs" >Anchor</text>
<path d="M103.60,257.0 Q170.80,274.40 238.00,257.00" fill="none" stroke="#b9c9dc" stroke-width="1.1"/>
<path d="M103.20,257.0 Q170.60,273.00 238.00,257.00" fill="none" stroke="#f7941d" stroke-width="1.4"/>
<path d="M54.00,257.0 Q146.00,280.00 238.00,257.00" fill="none" stroke="#a9aaac" stroke-width="1.3"/>
<path d="M64.80,257.0 Q151.40,277.60 238.00,257.00" fill="none" stroke="#a9aaac" stroke-width="1.3"/>
<path d="M94.40,257.0 Q166.20,274.20 238.00,257.00" fill="none" stroke="#a9aaac" stroke-width="1.3"/>
<path d="M120.80,257.0 Q179.40,270.60 238.00,257.00" fill="none" stroke="#a9aaac" stroke-width="1.3"/>
<path d="M150.40,257.0 Q194.20,267.00 238.00,257.00" fill="none" stroke="#a9aaac" stroke-width="1.3"/>
<path d="M186.10,257.0 Q212.05,263.80 238.00,257.00" fill="none" stroke="#a9aaac" stroke-width="1.3"/>
<line x1="43.6" y1="273.0" x2="229" y2="273.0" stroke="#6d6e71" stroke-width="1.6" />
<line x1="43.6" y1="273.0" x2="229" y2="273.0" stroke="#231f20" stroke-width="1.6" stroke-dasharray="1.1 1.2"/>
<ellipse cx="56.60" cy="273.0" rx="0.95" ry="2.2" fill="#000"/>
<ellipse cx="67.30" cy="273.0" rx="0.95" ry="2.2" fill="#000"/>
<ellipse cx="165.60" cy="273.0" rx="0.95" ry="2.2" fill="#000"/>
<ellipse cx="170.80" cy="273.0" rx="0.95" ry="2.2" fill="#000"/>
<path d="M228.8,271.5 H235 Q236.6,273 235,274.6 H228.8 Z" fill="#000"/>
<text x="240.4" y="274.6" font-size="8.6" fill="#231f20" stroke="#231f20" stroke-width="0.12" font-style="italic" >WT1</text>
<line x1="46.0" y1="281.7" x2="46.0" y2="360.0" stroke="#3c3c3c" stroke-width="1.2" />
<line x1="45.4" y1="359.5" x2="254.0" y2="359.5" stroke="#3c3c3c" stroke-width="1.2" />
<line x1="42.1" y1="359.5" x2="46" y2="359.5" stroke="#3c3c3c" stroke-width="1.0" />
<text x="39.5" y="362.1" font-size="7.7" fill="#231f20" stroke="#231f20" stroke-width="0.1" text-anchor="end" textLength="3.9" lengthAdjust="spacingAndGlyphs" >0</text>
<line x1="42.1" y1="347.41" x2="46" y2="347.41" stroke="#3c3c3c" stroke-width="1.0" />
<text x="39.5" y="350.01000000000005" font-size="7.7" fill="#231f20" stroke="#231f20" stroke-width="0.1" text-anchor="end" textLength="3.9" lengthAdjust="spacingAndGlyphs" >3</text>
<line x1="42.1" y1="335.32" x2="46" y2="335.32" stroke="#3c3c3c" stroke-width="1.0" />
<text x="39.5" y="337.92" font-size="7.7" fill="#231f20" stroke="#231f20" stroke-width="0.1" text-anchor="end" textLength="3.9" lengthAdjust="spacingAndGlyphs" >6</text>
<line x1="42.1" y1="323.23" x2="46" y2="323.23" stroke="#3c3c3c" stroke-width="1.0" />
<text x="39.5" y="325.83000000000004" font-size="7.7" fill="#231f20" stroke="#231f20" stroke-width="0.1" text-anchor="end" textLength="3.9" lengthAdjust="spacingAndGlyphs" >9</text>
<line x1="42.1" y1="311.14" x2="46" y2="311.14" stroke="#3c3c3c" stroke-width="1.0" />
<text x="39.5" y="313.74" font-size="7.7" fill="#231f20" stroke="#231f20" stroke-width="0.1" text-anchor="end" textLength="7.9" lengthAdjust="spacingAndGlyphs" >12</text>
<line x1="42.1" y1="299.05" x2="46" y2="299.05" stroke="#3c3c3c" stroke-width="1.0" />
<text x="39.5" y="301.65000000000003" font-size="7.7" fill="#231f20" stroke="#231f20" stroke-width="0.1" text-anchor="end" textLength="7.9" lengthAdjust="spacingAndGlyphs" >15</text>
<line x1="42.1" y1="286.96" x2="46" y2="286.96" stroke="#3c3c3c" stroke-width="1.0" />
<text x="39.5" y="289.56" font-size="7.7" fill="#231f20" stroke="#231f20" stroke-width="0.1" text-anchor="end" textLength="7.9" lengthAdjust="spacingAndGlyphs" >18</text>
<line x1="54.0" y1="359.5" x2="54.0" y2="363.4" stroke="#3c3c3c" stroke-width="1.0" />
<text x="54.0" y="372.0" font-size="7.6" fill="#333" stroke="#333" stroke-width="0.08" text-anchor="middle" >A</text>
<line x1="64.5" y1="359.5" x2="64.5" y2="363.4" stroke="#3c3c3c" stroke-width="1.0" />
<text x="64.5" y="372.0" font-size="7.6" fill="#333" stroke="#333" stroke-width="0.08" text-anchor="middle" >B</text>
<line x1="94.1" y1="359.5" x2="94.1" y2="363.4" stroke="#3c3c3c" stroke-width="1.0" />
<text x="94.1" y="372.0" font-size="7.6" fill="#333" stroke="#333" stroke-width="0.08" text-anchor="middle" >C</text>
<line x1="103.4" y1="359.5" x2="103.4" y2="363.4" stroke="#3c3c3c" stroke-width="1.0" />
<text x="103.4" y="372.0" font-size="7.6" fill="#333" stroke="#333" stroke-width="0.08" text-anchor="middle" >D</text>
<line x1="120.8" y1="359.5" x2="120.8" y2="363.4" stroke="#3c3c3c" stroke-width="1.0" />
<text x="120.8" y="372.0" font-size="7.6" fill="#333" stroke="#333" stroke-width="0.08" text-anchor="middle" >E</text>
<line x1="150.8" y1="359.5" x2="150.8" y2="363.4" stroke="#3c3c3c" stroke-width="1.0" />
<text x="150.8" y="372.0" font-size="7.6" fill="#333" stroke="#333" stroke-width="0.08" text-anchor="middle" >F</text>
<line x1="186.1" y1="359.5" x2="186.1" y2="363.4" stroke="#3c3c3c" stroke-width="1.0" />
<text x="186.1" y="372.0" font-size="7.6" fill="#333" stroke="#333" stroke-width="0.08" text-anchor="middle" >G</text>
<text x="238.4" y="368.9" font-size="7.6" fill="#333" stroke="#333" stroke-width="0.08" text-anchor="middle" textLength="24.6" lengthAdjust="spacingAndGlyphs" >Anchor</text>
<line x1="238.6" y1="304.9" x2="238.6" y2="359.5" stroke="#231f20" stroke-width="1.2" />
<text transform="translate(14.8,320.4) rotate(-90)" x="0" y="0" font-size="7.9" fill="#2b2b2b" stroke="#2b2b2b" stroke-width="0.05" text-anchor="middle" textLength="62.7" lengthAdjust="spacingAndGlyphs" >Relative interaction</text>
<text transform="translate(25.8,320.6) rotate(-90)" x="0" y="0" font-size="7.9" fill="#2b2b2b" stroke="#2b2b2b" stroke-width="0.05" text-anchor="middle" textLength="38.9" lengthAdjust="spacingAndGlyphs" >frequencies</text>
<line x1="54.0" y1="351.843" x2="54.0" y2="356.679" stroke="#231f20" stroke-width="0.9" />
<line x1="52.5" y1="351.843" x2="55.5" y2="351.843" stroke="#231f20" stroke-width="0.9" />
<line x1="52.5" y1="356.679" x2="55.5" y2="356.679" stroke="#231f20" stroke-width="0.9" />
<line x1="64.5" y1="340.962" x2="64.5" y2="353.052" stroke="#231f20" stroke-width="0.9" />
<line x1="63.0" y1="340.962" x2="66.0" y2="340.962" stroke="#231f20" stroke-width="0.9" />
<line x1="63.0" y1="353.052" x2="66.0" y2="353.052" stroke="#231f20" stroke-width="0.9" />
<line x1="94.1" y1="336.126" x2="94.1" y2="350.634" stroke="#231f20" stroke-width="0.9" />
<line x1="92.6" y1="336.126" x2="95.6" y2="336.126" stroke="#231f20" stroke-width="0.9" />
<line x1="92.6" y1="350.634" x2="95.6" y2="350.634" stroke="#231f20" stroke-width="0.9" />
<line x1="103.4" y1="282.93" x2="103.4" y2="325.648" stroke="#231f20" stroke-width="0.9" />
<line x1="101.9" y1="282.93" x2="104.9" y2="282.93" stroke="#231f20" stroke-width="0.9" />
<line x1="101.9" y1="325.648" x2="104.9" y2="325.648" stroke="#231f20" stroke-width="0.9" />
<line x1="120.8" y1="338.947" x2="120.8" y2="353.455" stroke="#231f20" stroke-width="0.9" />
<line x1="119.3" y1="338.947" x2="122.3" y2="338.947" stroke="#231f20" stroke-width="0.9" />
<line x1="119.3" y1="353.455" x2="122.3" y2="353.455" stroke="#231f20" stroke-width="0.9" />
<line x1="150.8" y1="353.052" x2="150.8" y2="356.276" stroke="#231f20" stroke-width="0.9" />
<line x1="149.3" y1="353.052" x2="152.3" y2="353.052" stroke="#231f20" stroke-width="0.9" />
<line x1="149.3" y1="356.276" x2="152.3" y2="356.276" stroke="#231f20" stroke-width="0.9" />
<line x1="186.1" y1="350.634" x2="186.1" y2="353.052" stroke="#231f20" stroke-width="0.9" />
<line x1="184.6" y1="350.634" x2="187.6" y2="350.634" stroke="#231f20" stroke-width="0.9" />
<line x1="184.6" y1="353.052" x2="187.6" y2="353.052" stroke="#231f20" stroke-width="0.9" />
<line x1="54.0" y1="351.44" x2="54.0" y2="356.276" stroke="#231f20" stroke-width="0.9" />
<line x1="52.5" y1="351.44" x2="55.5" y2="351.44" stroke="#231f20" stroke-width="0.9" />
<line x1="52.5" y1="356.276" x2="55.5" y2="356.276" stroke="#231f20" stroke-width="0.9" />
<line x1="64.5" y1="347.41" x2="64.5" y2="357.082" stroke="#231f20" stroke-width="0.9" />
<line x1="63.0" y1="347.41" x2="66.0" y2="347.41" stroke="#231f20" stroke-width="0.9" />
<line x1="63.0" y1="357.082" x2="66.0" y2="357.082" stroke="#231f20" stroke-width="0.9" />
<line x1="94.1" y1="344.186" x2="94.1" y2="358.694" stroke="#231f20" stroke-width="0.9" />
<line x1="92.6" y1="344.186" x2="95.6" y2="344.186" stroke="#231f20" stroke-width="0.9" />
<line x1="92.6" y1="358.694" x2="95.6" y2="358.694" stroke="#231f20" stroke-width="0.9" />
<line x1="103.4" y1="332.096" x2="103.4" y2="354.664" stroke="#231f20" stroke-width="0.9" />
<line x1="101.9" y1="332.096" x2="104.9" y2="332.096" stroke="#231f20" stroke-width="0.9" />
<line x1="101.9" y1="354.664" x2="104.9" y2="354.664" stroke="#231f20" stroke-width="0.9" />
<line x1="120.8" y1="349.425" x2="120.8" y2="356.679" stroke="#231f20" stroke-width="0.9" />
<line x1="119.3" y1="349.425" x2="122.3" y2="349.425" stroke="#231f20" stroke-width="0.9" />
<line x1="119.3" y1="356.679" x2="122.3" y2="356.679" stroke="#231f20" stroke-width="0.9" />
<line x1="150.8" y1="354.261" x2="150.8" y2="356.679" stroke="#231f20" stroke-width="0.9" />
<line x1="149.3" y1="354.261" x2="152.3" y2="354.261" stroke="#231f20" stroke-width="0.9" />
<line x1="149.3" y1="356.679" x2="152.3" y2="356.679" stroke="#231f20" stroke-width="0.9" />
<line x1="186.1" y1="353.455" x2="186.1" y2="355.873" stroke="#231f20" stroke-width="0.9" />
<line x1="184.6" y1="353.455" x2="187.6" y2="353.455" stroke="#231f20" stroke-width="0.9" />
<line x1="184.6" y1="355.873" x2="187.6" y2="355.873" stroke="#231f20" stroke-width="0.9" />
<line x1="54.0" y1="354.261" x2="54.0" y2="358.291" stroke="#231f20" stroke-width="0.9" />
<line x1="52.5" y1="354.261" x2="55.5" y2="354.261" stroke="#231f20" stroke-width="0.9" />
<line x1="52.5" y1="358.291" x2="55.5" y2="358.291" stroke="#231f20" stroke-width="0.9" />
<line x1="64.5" y1="350.634" x2="64.5" y2="357.888" stroke="#231f20" stroke-width="0.9" />
<line x1="63.0" y1="350.634" x2="66.0" y2="350.634" stroke="#231f20" stroke-width="0.9" />
<line x1="63.0" y1="357.888" x2="66.0" y2="357.888" stroke="#231f20" stroke-width="0.9" />
<line x1="94.1" y1="338.544" x2="94.1" y2="358.694" stroke="#231f20" stroke-width="0.9" />
<line x1="92.6" y1="338.544" x2="95.6" y2="338.544" stroke="#231f20" stroke-width="0.9" />
<line x1="92.6" y1="358.694" x2="95.6" y2="358.694" stroke="#231f20" stroke-width="0.9" />
<line x1="103.4" y1="334.514" x2="103.4" y2="352.246" stroke="#231f20" stroke-width="0.9" />
<line x1="101.9" y1="334.514" x2="104.9" y2="334.514" stroke="#231f20" stroke-width="0.9" />
<line x1="101.9" y1="352.246" x2="104.9" y2="352.246" stroke="#231f20" stroke-width="0.9" />
<line x1="120.8" y1="351.44" x2="120.8" y2="356.276" stroke="#231f20" stroke-width="0.9" />
<line x1="119.3" y1="351.44" x2="122.3" y2="351.44" stroke="#231f20" stroke-width="0.9" />
<line x1="119.3" y1="356.276" x2="122.3" y2="356.276" stroke="#231f20" stroke-width="0.9" />
<line x1="150.8" y1="354.664" x2="150.8" y2="357.082" stroke="#231f20" stroke-width="0.9" />
<line x1="149.3" y1="354.664" x2="152.3" y2="354.664" stroke="#231f20" stroke-width="0.9" />
<line x1="149.3" y1="357.082" x2="152.3" y2="357.082" stroke="#231f20" stroke-width="0.9" />
<line x1="186.1" y1="355.067" x2="186.1" y2="357.485" stroke="#231f20" stroke-width="0.9" />
<line x1="184.6" y1="355.067" x2="187.6" y2="355.067" stroke="#231f20" stroke-width="0.9" />
<line x1="184.6" y1="357.485" x2="187.6" y2="357.485" stroke="#231f20" stroke-width="0.9" />
<polyline points="54.00,353.86 64.50,352.25 94.10,351.44 103.40,343.38 120.80,353.05 150.80,355.47 186.10,354.66" fill="none" stroke="#cf1235" stroke-width="1.5" stroke-linejoin="round"/>
<path d="M54.00,351.86 L56.00,353.86 L54.00,355.86 L52.00,353.86 Z" fill="#cf1235"/>
<path d="M64.50,350.25 L66.50,352.25 L64.50,354.25 L62.50,352.25 Z" fill="#cf1235"/>
<path d="M94.10,349.44 L96.10,351.44 L94.10,353.44 L92.10,351.44 Z" fill="#cf1235"/>
<path d="M103.40,341.38 L105.40,343.38 L103.40,345.38 L101.40,343.38 Z" fill="#cf1235"/>
<path d="M120.80,351.05 L122.80,353.05 L120.80,355.05 L118.80,353.05 Z" fill="#cf1235"/>
<path d="M150.80,353.47 L152.80,355.47 L150.80,357.47 L148.80,355.47 Z" fill="#cf1235"/>
<path d="M186.10,352.66 L188.10,354.66 L186.10,356.66 L184.10,354.66 Z" fill="#cf1235"/>
<polyline points="54.00,356.28 64.50,354.26 94.10,348.62 103.40,343.38 120.80,353.86 150.80,355.87 186.10,356.28" fill="none" stroke="#35b34a" stroke-width="1.5" stroke-linejoin="round"/>
<path d="M54.00,354.18 L56.00,357.78 L52.00,357.78 Z" fill="#35b34a"/>
<path d="M64.50,352.16 L66.50,355.76 L62.50,355.76 Z" fill="#35b34a"/>
<path d="M94.10,346.52 L96.10,350.12 L92.10,350.12 Z" fill="#35b34a"/>
<path d="M103.40,341.28 L105.40,344.88 L101.40,344.88 Z" fill="#35b34a"/>
<path d="M120.80,351.76 L122.80,355.36 L118.80,355.36 Z" fill="#35b34a"/>
<path d="M150.80,353.77 L152.80,357.37 L148.80,357.37 Z" fill="#35b34a"/>
<path d="M186.10,354.18 L188.10,357.78 L184.10,357.78 Z" fill="#35b34a"/>
<polyline points="54.00,354.26 64.50,347.01 94.10,343.38 103.40,304.29 120.80,346.20 150.80,354.66 186.10,351.84" fill="none" stroke="#1d5996" stroke-width="1.5" stroke-linejoin="round"/>
<circle cx="54.00" cy="354.26" r="1.7" fill="#1d5996"/>
<circle cx="64.50" cy="347.01" r="1.7" fill="#1d5996"/>
<circle cx="94.10" cy="343.38" r="1.7" fill="#1d5996"/>
<circle cx="103.40" cy="304.29" r="1.7" fill="#1d5996"/>
<circle cx="120.80" cy="346.20" r="1.7" fill="#1d5996"/>
<circle cx="150.80" cy="354.66" r="1.7" fill="#1d5996"/>
<circle cx="186.10" cy="351.84" r="1.7" fill="#1d5996"/>
<path d="M125.2,304.1 H127.6 V343.4 H125.2" fill="none" stroke="#231f20" stroke-width="0.9"/>
<text x="130.8" y="325.0" font-size="7.0" fill="#231f20" stroke="#231f20" stroke-width="0.12" text-anchor="middle" >*</text>
<line x1="179.3" y1="286.3" x2="191.8" y2="286.3" stroke="#1d5996" stroke-width="1.5" />
<circle cx="185.6" cy="286.3" r="1.9" fill="#1d5996"/>
<text x="195.5" y="288.3" font-size="7.6" fill="#231f20" stroke="#231f20" stroke-width="0.08" textLength="34.7" lengthAdjust="spacingAndGlyphs" >pklv-vector</text>
<line x1="179.3" y1="294.45" x2="191.8" y2="294.45" stroke="#cf1235" stroke-width="1.5" />
<path d="M185.6,292.25 L187.8,294.45 L185.6,296.65 L183.4,294.45 Z" fill="#cf1235"/>
<text x="195.5" y="296.45" font-size="7.6" fill="#231f20" stroke="#231f20" stroke-width="0.08" textLength="26.9" lengthAdjust="spacingAndGlyphs" >Clone18</text>
<line x1="179.3" y1="302.6" x2="191.8" y2="302.6" stroke="#35b34a" stroke-width="1.5" />
<path d="M185.6,300.5 L187.8,304.1 L183.4,304.1 Z" fill="#35b34a"/>
<text x="195.5" y="304.6" font-size="7.6" fill="#231f20" stroke="#231f20" stroke-width="0.08" textLength="26.9" lengthAdjust="spacingAndGlyphs" >Clone19</text>
<text x="270.8" y="193.9" font-size="10.6" fill="#000" stroke="#000" stroke-width="0.12" font-weight="bold" >D</text>
<line x1="309.6" y1="213.0" x2="309.6" y2="307.8" stroke="#231f20" stroke-width="1.2" />
<line x1="309.0" y1="307.3" x2="505.9" y2="307.3" stroke="#231f20" stroke-width="1.2" />
<line x1="306.4" y1="307.3" x2="309.6" y2="307.3" stroke="#231f20" stroke-width="1.0" />
<text x="303.9" y="310.0" font-size="8.0" fill="#231f20" stroke="#231f20" stroke-width="0.1" text-anchor="end" textLength="4.1" lengthAdjust="spacingAndGlyphs" >0</text>
<line x1="306.4" y1="289.15000000000003" x2="309.6" y2="289.15000000000003" stroke="#231f20" stroke-width="1.0" />
<text x="303.9" y="291.85" font-size="8.0" fill="#231f20" stroke="#231f20" stroke-width="0.1" text-anchor="end" textLength="4.1" lengthAdjust="spacingAndGlyphs" >5</text>
<line x1="306.4" y1="271.0" x2="309.6" y2="271.0" stroke="#231f20" stroke-width="1.0" />
<text x="303.9" y="273.7" font-size="8.0" fill="#231f20" stroke="#231f20" stroke-width="0.1" text-anchor="end" textLength="8.4" lengthAdjust="spacingAndGlyphs" >10</text>
<line x1="306.4" y1="252.85000000000002" x2="309.6" y2="252.85000000000002" stroke="#231f20" stroke-width="1.0" />
<text x="303.9" y="255.55" font-size="8.0" fill="#231f20" stroke="#231f20" stroke-width="0.1" text-anchor="end" textLength="8.4" lengthAdjust="spacingAndGlyphs" >15</text>
<line x1="306.4" y1="234.70000000000002" x2="309.6" y2="234.70000000000002" stroke="#231f20" stroke-width="1.0" />
<text x="303.9" y="237.4" font-size="8.0" fill="#231f20" stroke="#231f20" stroke-width="0.1" text-anchor="end" textLength="8.4" lengthAdjust="spacingAndGlyphs" >20</text>
<line x1="306.4" y1="216.55" x2="309.6" y2="216.55" stroke="#231f20" stroke-width="1.0" />
<text x="303.9" y="219.25" font-size="8.0" fill="#231f20" stroke="#231f20" stroke-width="0.1" text-anchor="end" textLength="8.4" lengthAdjust="spacingAndGlyphs" >25</text>
<line x1="318.8" y1="307.3" x2="318.8" y2="310.5" stroke="#231f20" stroke-width="1.0" />
<text x="318.8" y="320.0" font-size="7.6" fill="#333" stroke="#333" stroke-width="0.08" text-anchor="middle" >A</text>
<line x1="328.5" y1="307.3" x2="328.5" y2="310.5" stroke="#231f20" stroke-width="1.0" />
<text x="328.5" y="320.0" font-size="7.6" fill="#333" stroke="#333" stroke-width="0.08" text-anchor="middle" >B</text>
<line x1="356.7" y1="307.3" x2="356.7" y2="310.5" stroke="#231f20" stroke-width="1.0" />
<text x="356.7" y="320.0" font-size="7.6" fill="#333" stroke="#333" stroke-width="0.08" text-anchor="middle" >C</text>
<line x1="365.4" y1="307.3" x2="365.4" y2="310.5" stroke="#231f20" stroke-width="1.0" />
<text x="365.4" y="320.0" font-size="7.6" fill="#333" stroke="#333" stroke-width="0.08" text-anchor="middle" >D</text>
<line x1="382.0" y1="307.3" x2="382.0" y2="310.5" stroke="#231f20" stroke-width="1.0" />
<text x="382.0" y="320.0" font-size="7.6" fill="#333" stroke="#333" stroke-width="0.08" text-anchor="middle" >E</text>
<line x1="410.5" y1="307.3" x2="410.5" y2="310.5" stroke="#231f20" stroke-width="1.0" />
<text x="410.5" y="320.0" font-size="7.6" fill="#333" stroke="#333" stroke-width="0.08" text-anchor="middle" >F</text>
<line x1="444.1" y1="307.3" x2="444.1" y2="310.5" stroke="#231f20" stroke-width="1.0" />
<text x="444.1" y="320.0" font-size="7.6" fill="#333" stroke="#333" stroke-width="0.08" text-anchor="middle" >G</text>
<text x="493.7" y="316.3" font-size="7.6" fill="#333" stroke="#333" stroke-width="0.08" text-anchor="middle" textLength="24.3" lengthAdjust="spacingAndGlyphs" >Anchor</text>
<line x1="493.7" y1="231.3" x2="493.7" y2="307.3" stroke="#231f20" stroke-width="1.2" />
<text transform="translate(278.6,262.1) rotate(-90)" x="0" y="0" font-size="8.4" fill="#2b2b2b" stroke="#2b2b2b" stroke-width="0.05" text-anchor="middle" textLength="63.8" lengthAdjust="spacingAndGlyphs" >Relative interaction</text>
<text transform="translate(290.1,262.1) rotate(-90)" x="0" y="0" font-size="8.4" fill="#2b2b2b" stroke="#2b2b2b" stroke-width="0.05" text-anchor="middle" textLength="38.2" lengthAdjust="spacingAndGlyphs" >frequencies</text>
<line x1="318.8" y1="302.581" x2="318.8" y2="304.759" stroke="#231f20" stroke-width="0.9" />
<line x1="317.3" y1="302.581" x2="320.3" y2="302.581" stroke="#231f20" stroke-width="0.9" />
<line x1="317.3" y1="304.759" x2="320.3" y2="304.759" stroke="#231f20" stroke-width="0.9" />
<line x1="328.5" y1="293.50600000000003" x2="328.5" y2="300.766" stroke="#231f20" stroke-width="0.9" />
<line x1="327.0" y1="293.50600000000003" x2="330.0" y2="293.50600000000003" stroke="#231f20" stroke-width="0.9" />
<line x1="327.0" y1="300.766" x2="330.0" y2="300.766" stroke="#231f20" stroke-width="0.9" />
<line x1="356.7" y1="296.773" x2="356.7" y2="302.581" stroke="#231f20" stroke-width="0.9" />
<line x1="355.2" y1="296.773" x2="358.2" y2="296.773" stroke="#231f20" stroke-width="0.9" />
<line x1="355.2" y1="302.581" x2="358.2" y2="302.581" stroke="#231f20" stroke-width="0.9" />
<line x1="365.4" y1="234.33700000000002" x2="365.4" y2="262.651" stroke="#231f20" stroke-width="0.9" />
<line x1="363.9" y1="234.33700000000002" x2="366.9" y2="234.33700000000002" stroke="#231f20" stroke-width="0.9" />
<line x1="363.9" y1="262.651" x2="366.9" y2="262.651" stroke="#231f20" stroke-width="0.9" />
<line x1="382.0" y1="295.684" x2="382.0" y2="300.766" stroke="#231f20" stroke-width="0.9" />
<line x1="380.5" y1="295.684" x2="383.5" y2="295.684" stroke="#231f20" stroke-width="0.9" />
<line x1="380.5" y1="300.766" x2="383.5" y2="300.766" stroke="#231f20" stroke-width="0.9" />
<line x1="410.5" y1="302.581" x2="410.5" y2="304.759" stroke="#231f20" stroke-width="0.9" />
<line x1="409.0" y1="302.581" x2="412.0" y2="302.581" stroke="#231f20" stroke-width="0.9" />
<line x1="409.0" y1="304.759" x2="412.0" y2="304.759" stroke="#231f20" stroke-width="0.9" />
<line x1="444.1" y1="300.766" x2="444.1" y2="302.944" stroke="#231f20" stroke-width="0.9" />
<line x1="442.6" y1="300.766" x2="445.6" y2="300.766" stroke="#231f20" stroke-width="0.9" />
<line x1="442.6" y1="302.944" x2="445.6" y2="302.944" stroke="#231f20" stroke-width="0.9" />
<line x1="318.8" y1="302.581" x2="318.8" y2="304.759" stroke="#231f20" stroke-width="0.9" />
<line x1="317.3" y1="302.581" x2="320.3" y2="302.581" stroke="#231f20" stroke-width="0.9" />
<line x1="317.3" y1="304.759" x2="320.3" y2="304.759" stroke="#231f20" stroke-width="0.9" />
<line x1="328.5" y1="296.41" x2="328.5" y2="302.944" stroke="#231f20" stroke-width="0.9" />
<line x1="327.0" y1="296.41" x2="330.0" y2="296.41" stroke="#231f20" stroke-width="0.9" />
<line x1="327.0" y1="302.944" x2="330.0" y2="302.944" stroke="#231f20" stroke-width="0.9" />
<line x1="356.7" y1="297.862" x2="356.7" y2="303.67" stroke="#231f20" stroke-width="0.9" />
<line x1="355.2" y1="297.862" x2="358.2" y2="297.862" stroke="#231f20" stroke-width="0.9" />
<line x1="355.2" y1="303.67" x2="358.2" y2="303.67" stroke="#231f20" stroke-width="0.9" />
<line x1="365.4" y1="280.801" x2="365.4" y2="290.96500000000003" stroke="#231f20" stroke-width="0.9" />
<line x1="363.9" y1="280.801" x2="366.9" y2="280.801" stroke="#231f20" stroke-width="0.9" />
<line x1="363.9" y1="290.96500000000003" x2="366.9" y2="290.96500000000003" stroke="#231f20" stroke-width="0.9" />
<line x1="382.0" y1="300.04" x2="382.0" y2="303.67" stroke="#231f20" stroke-width="0.9" />
<line x1="380.5" y1="300.04" x2="383.5" y2="300.04" stroke="#231f20" stroke-width="0.9" />
<line x1="380.5" y1="303.67" x2="383.5" y2="303.67" stroke="#231f20" stroke-width="0.9" />
<line x1="410.5" y1="302.581" x2="410.5" y2="304.759" stroke="#231f20" stroke-width="0.9" />
<line x1="409.0" y1="302.581" x2="412.0" y2="302.581" stroke="#231f20" stroke-width="0.9" />
<line x1="409.0" y1="304.759" x2="412.0" y2="304.759" stroke="#231f20" stroke-width="0.9" />
<line x1="444.1" y1="300.766" x2="444.1" y2="302.944" stroke="#231f20" stroke-width="0.9" />
<line x1="442.6" y1="300.766" x2="445.6" y2="300.766" stroke="#231f20" stroke-width="0.9" />
<line x1="442.6" y1="302.944" x2="445.6" y2="302.944" stroke="#231f20" stroke-width="0.9" />
<polyline points="318.80,303.67 328.50,299.68 356.70,300.77 365.40,285.88 382.00,301.86 410.50,303.67 444.10,301.86" fill="none" stroke="#cf1235" stroke-width="1.5" stroke-linejoin="round"/>
<rect x="317.10" y="301.97" width="3.4" height="3.4" fill="#cf1235"/>
<rect x="326.80" y="297.98" width="3.4" height="3.4" fill="#cf1235"/>
<rect x="355.00" y="299.07" width="3.4" height="3.4" fill="#cf1235"/>
<rect x="363.70" y="284.18" width="3.4" height="3.4" fill="#cf1235"/>
<rect x="380.30" y="300.16" width="3.4" height="3.4" fill="#cf1235"/>
<rect x="408.80" y="301.97" width="3.4" height="3.4" fill="#cf1235"/>
<rect x="442.40" y="300.16" width="3.4" height="3.4" fill="#cf1235"/>
<polyline points="318.80,303.67 328.50,297.14 356.70,299.68 365.40,248.49 382.00,298.23 410.50,303.67 444.10,301.86" fill="none" stroke="#1d5996" stroke-width="1.5" stroke-linejoin="round"/>
<circle cx="318.80" cy="303.67" r="1.7" fill="#1d5996"/>
<circle cx="328.50" cy="297.14" r="1.7" fill="#1d5996"/>
<circle cx="356.70" cy="299.68" r="1.7" fill="#1d5996"/>
<circle cx="365.40" cy="248.49" r="1.7" fill="#1d5996"/>
<circle cx="382.00" cy="298.23" r="1.7" fill="#1d5996"/>
<circle cx="410.50" cy="303.67" r="1.7" fill="#1d5996"/>
<circle cx="444.10" cy="301.86" r="1.7" fill="#1d5996"/>
<path d="M354.5,248.6 H352.4 V285.8 H354.5" fill="none" stroke="#231f20" stroke-width="0.9"/>
<text x="346.4" y="270.6" font-size="7.0" fill="#231f20" stroke="#231f20" stroke-width="0.12" text-anchor="middle" >*</text>
<line x1="436.1" y1="216.8" x2="447.5" y2="216.8" stroke="#1d5996" stroke-width="1.5" />
<circle cx="441.8" cy="216.8" r="1.9" fill="#1d5996"/>
<text x="451.5" y="219.10000000000002" font-size="7.6" fill="#231f20" stroke="#231f20" stroke-width="0.08" textLength="36.4" lengthAdjust="spacingAndGlyphs" >pklv-vector</text>
<line x1="436.1" y1="227.20000000000002" x2="447.5" y2="227.20000000000002" stroke="#cf1235" stroke-width="1.5" />
<rect x="439.9" y="225.3" width="3.8" height="3.8" fill="#cf1235"/>
<text x="451.5" y="229.50000000000003" font-size="7.6" fill="#231f20" stroke="#231f20" stroke-width="0.08" textLength="25.6" lengthAdjust="spacingAndGlyphs" >sg-MYB</text>
<line x1="308.7" y1="327.4" x2="485.5" y2="327.4" stroke="#6d6e71" stroke-width="1.6" />
<line x1="308.7" y1="327.4" x2="485.5" y2="327.4" stroke="#231f20" stroke-width="1.6" stroke-dasharray="1.1 1.2"/>
<ellipse cx="321.30" cy="327.4" rx="0.95" ry="2.2" fill="#000"/>
<ellipse cx="331.60" cy="327.4" rx="0.95" ry="2.2" fill="#000"/>
<ellipse cx="424.60" cy="327.4" rx="0.95" ry="2.2" fill="#000"/>
<ellipse cx="429.30" cy="327.4" rx="0.95" ry="2.2" fill="#000"/>
<path d="M485,325.8 H490.8 Q492.4,327.4 490.8,329.1 H485 Z" fill="#000"/>
<text x="495.8" y="329.1" font-size="8.6" fill="#231f20" stroke="#231f20" stroke-width="0.12" font-style="italic" textLength="15.4" lengthAdjust="spacingAndGlyphs" >WT1</text>
<rect x="0.5" y="0.5" width="519" height="378" fill="none" stroke="#000" stroke-width="1.2"/>
</svg>
</body></html>
